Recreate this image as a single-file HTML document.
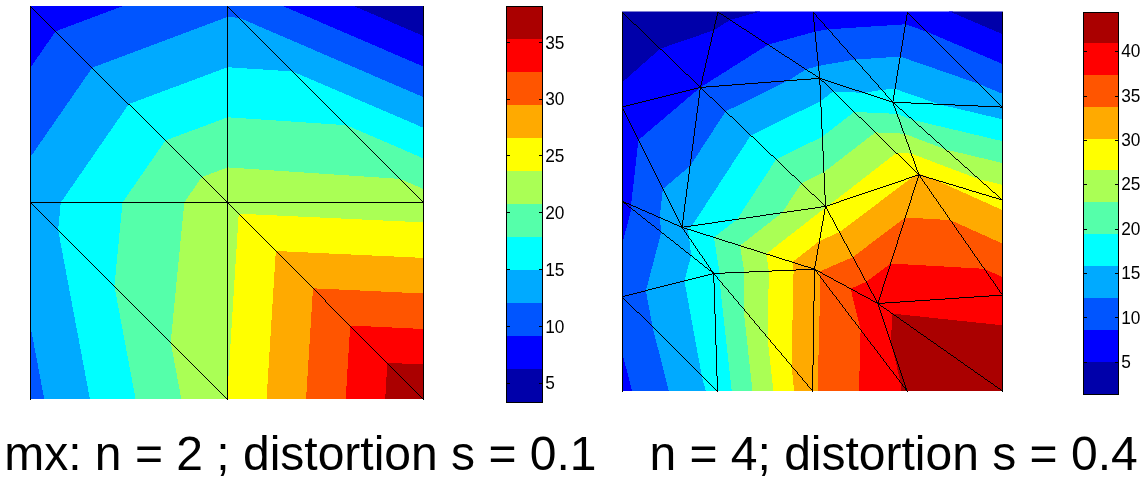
<!DOCTYPE html>
<html lang="en"><head><meta charset="utf-8"><title>mx: distortion comparison</title>
<style>
html,body{margin:0;padding:0;background:#fff;}
body{width:1147px;height:488px;overflow:hidden;position:relative;font-family:"Liberation Sans",Arial,Helvetica,sans-serif;}
svg{position:absolute;left:0;top:0;display:block;}
.tk{font-family:"Liberation Sans",Arial,Helvetica,sans-serif;fill:#000;}
.cap{position:absolute;top:426px;height:56px;line-height:56px;font-size:48px;color:#000;white-space:pre;margin:0;}
#c1{left:4.2px;}
#c2{left:649.4px;}
</style></head>
<body>
<svg width="1147" height="488" viewBox="0 0 1147 488">
<clipPath id="cl"><rect x="30" y="6" width="394" height="393"/></clipPath>
<g clip-path="url(#cl)" shape-rendering="crispEdges">
<g stroke-width="3" stroke-linejoin="round">
<path d="M353.9,6.0 L423.5,6.0 L423.5,36.0Z" fill="#0000AA" stroke="#0000AA"/>
<path d="M30.5,6.0 L123.0,6.0 L55.7,31.2ZM30.5,6.0 L55.7,31.2 L30.5,67.6ZM282.9,6.0 L353.9,6.0 L423.5,36.0 L423.5,66.6Z" fill="#0000FF" stroke="#0000FF"/>
<path d="M123.0,6.0 L227.5,6.0 L227.5,17.0 L92.3,67.6 L55.7,31.2ZM55.7,31.2 L92.3,67.6 L30.5,156.9 L30.5,67.6ZM227.5,6.0 L282.9,6.0 L423.5,66.6 L423.5,97.2 L239.3,17.8ZM227.5,6.0 L239.3,17.8 L227.5,17.0ZM44.2,399.0 L30.5,399.0 L30.5,326.2Z" fill="#0055FF" stroke="#0055FF"/>
<path d="M227.5,17.0 L227.5,67.2 L128.8,104.1 L92.3,67.6ZM92.3,67.6 L128.8,104.1 L60.8,202.5 L30.5,202.5 L30.5,156.9ZM423.5,97.2 L423.5,127.8 L292.8,71.5 L239.3,17.8ZM239.3,17.8 L292.8,71.5 L227.5,67.2 L227.5,17.0ZM30.5,202.5 L60.8,202.5 L58.1,230.0ZM30.5,202.5 L58.1,230.0 L89.9,399.0 L44.2,399.0 L30.5,326.2Z" fill="#00AAFF" stroke="#00AAFF"/>
<path d="M227.5,67.2 L227.5,117.3 L165.4,140.5 L128.8,104.1ZM128.8,104.1 L165.4,140.5 L122.5,202.5 L60.8,202.5ZM423.5,127.8 L423.5,158.4 L346.4,125.2 L292.8,71.5ZM292.8,71.5 L346.4,125.2 L227.5,117.3 L227.5,67.2ZM60.8,202.5 L122.5,202.5 L114.4,286.2 L58.1,230.0ZM58.1,230.0 L114.4,286.2 L135.6,399.0 L89.9,399.0Z" fill="#00FFFF" stroke="#00FFFF"/>
<path d="M227.5,117.3 L227.5,167.4 L201.9,177.0 L165.4,140.5ZM165.4,140.5 L201.9,177.0 L184.3,202.5 L122.5,202.5ZM423.5,158.4 L423.5,189.0 L399.9,178.9 L346.4,125.2ZM346.4,125.2 L399.9,178.9 L227.5,167.4 L227.5,117.3ZM122.5,202.5 L184.3,202.5 L170.7,342.3 L114.4,286.2ZM114.4,286.2 L170.7,342.3 L181.3,399.0 L135.6,399.0Z" fill="#55FFAA" stroke="#55FFAA"/>
<path d="M227.5,167.4 L227.5,202.5 L201.9,177.0ZM201.9,177.0 L227.5,202.5 L184.3,202.5ZM423.5,189.0 L423.5,202.5 L399.9,178.9ZM399.9,178.9 L423.5,202.5 L227.5,202.5 L227.5,167.4ZM184.3,202.5 L227.5,202.5 L227.5,392.7 L226.9,398.4 L170.7,342.3ZM170.7,342.3 L226.9,398.4 L227.0,399.0 L181.3,399.0ZM227.5,202.5 L423.5,202.5 L423.5,222.4 L238.7,213.7ZM227.5,202.5 L238.7,213.7 L227.5,392.7Z" fill="#AAFF55" stroke="#AAFF55"/>
<path d="M227.5,392.7 L227.5,399.0 L226.9,398.4ZM226.9,398.4 L227.5,399.0 L227.0,399.0ZM423.5,222.4 L423.5,257.9 L275.8,251.0 L238.7,213.7ZM238.7,213.7 L275.8,251.0 L266.6,399.0 L227.5,399.0 L227.5,392.7Z" fill="#FFFF00" stroke="#FFFF00"/>
<path d="M423.5,257.9 L423.5,293.5 L313.0,288.3 L275.8,251.0ZM275.8,251.0 L313.0,288.3 L306.1,399.0 L266.6,399.0Z" fill="#FFAA00" stroke="#FFAA00"/>
<path d="M423.5,293.5 L423.5,329.0 L350.2,325.5 L313.0,288.3ZM313.0,288.3 L350.2,325.5 L345.7,399.0 L306.1,399.0Z" fill="#FF5500" stroke="#FF5500"/>
<path d="M423.5,329.0 L423.5,364.5 L387.4,362.8 L350.2,325.5ZM350.2,325.5 L387.4,362.8 L385.2,399.0 L345.7,399.0Z" fill="#FF0000" stroke="#FF0000"/>
<path d="M423.5,364.5 L423.5,399.0 L387.4,362.8ZM387.4,362.8 L423.5,399.0 L385.2,399.0Z" fill="#AA0000" stroke="#AA0000"/>
</g>
<g stroke="none">
<path d="M353.9,6.0 L423.5,6.0 L423.5,36.0Z" fill="#0000AA"/>
<path d="M30.5,6.0 L123.0,6.0 L55.7,31.2ZM30.5,6.0 L55.7,31.2 L30.5,67.6ZM282.9,6.0 L353.9,6.0 L423.5,36.0 L423.5,66.6Z" fill="#0000FF"/>
<path d="M123.0,6.0 L227.5,6.0 L227.5,17.0 L92.3,67.6 L55.7,31.2ZM55.7,31.2 L92.3,67.6 L30.5,156.9 L30.5,67.6ZM227.5,6.0 L282.9,6.0 L423.5,66.6 L423.5,97.2 L239.3,17.8ZM227.5,6.0 L239.3,17.8 L227.5,17.0ZM44.2,399.0 L30.5,399.0 L30.5,326.2Z" fill="#0055FF"/>
<path d="M227.5,17.0 L227.5,67.2 L128.8,104.1 L92.3,67.6ZM92.3,67.6 L128.8,104.1 L60.8,202.5 L30.5,202.5 L30.5,156.9ZM423.5,97.2 L423.5,127.8 L292.8,71.5 L239.3,17.8ZM239.3,17.8 L292.8,71.5 L227.5,67.2 L227.5,17.0ZM30.5,202.5 L60.8,202.5 L58.1,230.0ZM30.5,202.5 L58.1,230.0 L89.9,399.0 L44.2,399.0 L30.5,326.2Z" fill="#00AAFF"/>
<path d="M227.5,67.2 L227.5,117.3 L165.4,140.5 L128.8,104.1ZM128.8,104.1 L165.4,140.5 L122.5,202.5 L60.8,202.5ZM423.5,127.8 L423.5,158.4 L346.4,125.2 L292.8,71.5ZM292.8,71.5 L346.4,125.2 L227.5,117.3 L227.5,67.2ZM60.8,202.5 L122.5,202.5 L114.4,286.2 L58.1,230.0ZM58.1,230.0 L114.4,286.2 L135.6,399.0 L89.9,399.0Z" fill="#00FFFF"/>
<path d="M227.5,117.3 L227.5,167.4 L201.9,177.0 L165.4,140.5ZM165.4,140.5 L201.9,177.0 L184.3,202.5 L122.5,202.5ZM423.5,158.4 L423.5,189.0 L399.9,178.9 L346.4,125.2ZM346.4,125.2 L399.9,178.9 L227.5,167.4 L227.5,117.3ZM122.5,202.5 L184.3,202.5 L170.7,342.3 L114.4,286.2ZM114.4,286.2 L170.7,342.3 L181.3,399.0 L135.6,399.0Z" fill="#55FFAA"/>
<path d="M227.5,167.4 L227.5,202.5 L201.9,177.0ZM201.9,177.0 L227.5,202.5 L184.3,202.5ZM423.5,189.0 L423.5,202.5 L399.9,178.9ZM399.9,178.9 L423.5,202.5 L227.5,202.5 L227.5,167.4ZM184.3,202.5 L227.5,202.5 L227.5,392.7 L226.9,398.4 L170.7,342.3ZM170.7,342.3 L226.9,398.4 L227.0,399.0 L181.3,399.0ZM227.5,202.5 L423.5,202.5 L423.5,222.4 L238.7,213.7ZM227.5,202.5 L238.7,213.7 L227.5,392.7Z" fill="#AAFF55"/>
<path d="M227.5,392.7 L227.5,399.0 L226.9,398.4ZM226.9,398.4 L227.5,399.0 L227.0,399.0ZM423.5,222.4 L423.5,257.9 L275.8,251.0 L238.7,213.7ZM238.7,213.7 L275.8,251.0 L266.6,399.0 L227.5,399.0 L227.5,392.7Z" fill="#FFFF00"/>
<path d="M423.5,257.9 L423.5,293.5 L313.0,288.3 L275.8,251.0ZM275.8,251.0 L313.0,288.3 L306.1,399.0 L266.6,399.0Z" fill="#FFAA00"/>
<path d="M423.5,293.5 L423.5,329.0 L350.2,325.5 L313.0,288.3ZM313.0,288.3 L350.2,325.5 L345.7,399.0 L306.1,399.0Z" fill="#FF5500"/>
<path d="M423.5,329.0 L423.5,364.5 L387.4,362.8 L350.2,325.5ZM350.2,325.5 L387.4,362.8 L385.2,399.0 L345.7,399.0Z" fill="#FF0000"/>
<path d="M423.5,364.5 L423.5,399.0 L387.4,362.8ZM387.4,362.8 L423.5,399.0 L385.2,399.0Z" fill="#AA0000"/>
</g>
</g>
<path d="M30,6h1v1h-1zM30,8h1v194h-1zM30,204h1v196h-1zM30,7h2v1h-2zM30,203h2v1h-2zM30,202h394v1h-394zM32,8h1v1h-1zM32,204h1v1h-1zM33,9h1v1h-1zM33,205h1v1h-1zM34,10h1v1h-1zM34,206h1v1h-1zM35,11h1v1h-1zM35,207h1v1h-1zM36,12h1v1h-1zM36,208h1v1h-1zM37,13h1v1h-1zM37,209h1v1h-1zM38,14h1v1h-1zM38,210h1v1h-1zM39,15h1v1h-1zM39,211h1v1h-1zM40,16h1v1h-1zM40,212h1v1h-1zM41,17h1v1h-1zM41,213h1v1h-1zM42,18h1v1h-1zM42,214h1v1h-1zM43,19h1v1h-1zM43,215h1v1h-1zM44,20h1v1h-1zM44,216h1v1h-1zM45,21h1v1h-1zM45,217h1v1h-1zM46,22h1v1h-1zM46,218h1v1h-1zM47,23h1v1h-1zM47,219h1v1h-1zM48,24h1v1h-1zM48,220h1v1h-1zM49,25h1v1h-1zM49,221h1v1h-1zM50,26h1v1h-1zM50,222h1v1h-1zM51,27h1v1h-1zM51,223h1v1h-1zM52,28h1v1h-1zM52,224h1v1h-1zM53,29h1v1h-1zM53,225h1v1h-1zM54,30h1v1h-1zM54,226h1v1h-1zM55,31h1v1h-1zM55,227h1v1h-1zM56,32h1v1h-1zM56,228h1v1h-1zM57,33h1v1h-1zM57,229h1v1h-1zM58,34h1v1h-1zM58,230h1v1h-1zM59,35h1v1h-1zM59,231h1v1h-1zM60,36h1v1h-1zM60,232h1v1h-1zM61,37h1v1h-1zM61,233h1v1h-1zM62,38h1v1h-1zM62,234h1v1h-1zM63,39h1v1h-1zM63,235h1v1h-1zM64,40h1v1h-1zM64,236h1v1h-1zM65,41h1v1h-1zM65,237h1v1h-1zM66,42h1v1h-1zM66,238h1v1h-1zM67,43h1v1h-1zM67,239h1v1h-1zM68,44h1v1h-1zM68,240h1v1h-1zM69,45h1v1h-1zM69,241h1v1h-1zM70,46h1v1h-1zM70,242h1v1h-1zM71,47h1v1h-1zM71,243h1v1h-1zM72,48h1v1h-1zM72,244h1v1h-1zM73,49h1v1h-1zM73,245h1v1h-1zM74,50h1v1h-1zM74,246h1v1h-1zM75,51h1v1h-1zM75,247h1v1h-1zM76,52h1v1h-1zM76,248h1v1h-1zM77,53h1v1h-1zM77,249h1v1h-1zM78,54h1v1h-1zM78,250h1v1h-1zM79,55h1v1h-1zM79,251h1v1h-1zM80,56h1v1h-1zM80,252h1v1h-1zM81,57h1v1h-1zM81,253h1v1h-1zM82,58h1v1h-1zM82,254h1v1h-1zM83,59h1v1h-1zM83,255h1v1h-1zM84,60h1v1h-1zM84,256h1v1h-1zM85,61h1v1h-1zM85,257h1v1h-1zM86,62h1v1h-1zM86,258h1v1h-1zM87,63h1v1h-1zM87,259h1v1h-1zM88,64h1v1h-1zM88,260h1v1h-1zM89,65h1v1h-1zM89,261h1v1h-1zM90,66h1v1h-1zM90,262h1v1h-1zM91,67h1v1h-1zM91,263h1v1h-1zM92,68h1v1h-1zM92,264h1v1h-1zM93,69h1v1h-1zM93,265h1v1h-1zM94,70h1v1h-1zM94,266h1v1h-1zM95,71h1v1h-1zM95,267h1v1h-1zM96,72h1v1h-1zM96,268h1v1h-1zM97,73h1v1h-1zM97,269h1v1h-1zM98,74h1v1h-1zM98,270h1v1h-1zM99,75h1v1h-1zM99,271h1v1h-1zM100,76h1v1h-1zM100,272h1v1h-1zM101,77h1v1h-1zM101,273h1v1h-1zM102,78h1v1h-1zM102,274h1v1h-1zM103,79h1v1h-1zM103,275h1v1h-1zM104,80h1v1h-1zM104,276h1v1h-1zM105,81h1v1h-1zM105,277h1v1h-1zM106,82h1v1h-1zM106,278h1v1h-1zM107,83h1v1h-1zM107,279h1v1h-1zM108,84h1v1h-1zM108,280h1v1h-1zM109,85h1v1h-1zM109,281h1v1h-1zM110,86h1v1h-1zM110,282h1v1h-1zM111,87h1v1h-1zM111,283h1v1h-1zM112,88h1v1h-1zM112,284h1v1h-1zM113,89h1v1h-1zM113,285h1v1h-1zM114,90h1v1h-1zM114,286h1v1h-1zM115,91h1v1h-1zM115,287h1v1h-1zM116,92h1v1h-1zM116,288h1v1h-1zM117,93h1v1h-1zM117,289h1v1h-1zM118,94h1v1h-1zM118,290h1v1h-1zM119,95h1v1h-1zM119,291h1v1h-1zM120,96h1v1h-1zM120,292h1v1h-1zM121,97h1v1h-1zM121,293h1v1h-1zM122,98h1v1h-1zM122,294h1v1h-1zM123,99h1v1h-1zM123,295h1v1h-1zM124,100h1v1h-1zM124,296h1v1h-1zM125,101h1v1h-1zM125,297h1v1h-1zM126,102h1v1h-1zM126,298h1v1h-1zM127,103h1v1h-1zM127,299h1v1h-1zM128,300h1v1h-1zM128,104h2v1h-2zM129,301h1v1h-1zM130,105h1v1h-1zM130,302h1v1h-1zM131,106h1v1h-1zM131,303h1v1h-1zM132,107h1v1h-1zM132,304h1v1h-1zM133,108h1v1h-1zM133,305h1v1h-1zM134,109h1v1h-1zM134,306h1v1h-1zM135,110h1v1h-1zM135,307h1v1h-1zM136,111h1v1h-1zM136,308h1v1h-1zM137,112h1v1h-1zM137,309h1v1h-1zM138,113h1v1h-1zM138,310h1v1h-1zM139,114h1v1h-1zM139,311h1v1h-1zM140,115h1v1h-1zM140,312h1v1h-1zM141,116h1v1h-1zM141,313h1v1h-1zM142,117h1v1h-1zM142,314h1v1h-1zM143,118h1v1h-1zM143,315h1v1h-1zM144,119h1v1h-1zM144,316h1v1h-1zM145,120h1v1h-1zM145,317h1v1h-1zM146,121h1v1h-1zM146,318h1v1h-1zM147,122h1v1h-1zM147,319h1v1h-1zM148,123h1v1h-1zM148,320h1v1h-1zM149,124h1v1h-1zM149,321h1v1h-1zM150,125h1v1h-1zM150,322h1v1h-1zM151,126h1v1h-1zM151,323h1v1h-1zM152,127h1v1h-1zM152,324h1v1h-1zM153,128h1v1h-1zM153,325h1v1h-1zM154,129h1v1h-1zM154,326h1v1h-1zM155,130h1v1h-1zM155,327h1v1h-1zM156,131h1v1h-1zM156,328h1v1h-1zM157,132h1v1h-1zM157,329h1v1h-1zM158,133h1v1h-1zM158,330h1v1h-1zM159,134h1v1h-1zM159,331h1v1h-1zM160,135h1v1h-1zM160,332h1v1h-1zM161,136h1v1h-1zM161,333h1v1h-1zM162,137h1v1h-1zM162,334h1v1h-1zM163,138h1v1h-1zM163,335h1v1h-1zM164,139h1v1h-1zM164,336h1v1h-1zM165,140h1v1h-1zM165,337h1v1h-1zM166,141h1v1h-1zM166,338h1v1h-1zM167,142h1v1h-1zM167,339h1v1h-1zM168,143h1v1h-1zM168,340h1v1h-1zM169,144h1v1h-1zM169,341h1v1h-1zM170,145h1v1h-1zM170,342h1v1h-1zM171,146h1v1h-1zM171,343h1v1h-1zM172,147h1v1h-1zM172,344h1v1h-1zM173,148h1v1h-1zM173,345h1v1h-1zM174,149h1v1h-1zM174,346h1v1h-1zM175,150h1v1h-1zM175,347h1v1h-1zM176,151h1v1h-1zM176,348h1v1h-1zM177,152h1v1h-1zM177,349h1v1h-1zM178,153h1v1h-1zM178,350h1v1h-1zM179,154h1v1h-1zM179,351h1v1h-1zM180,155h1v1h-1zM180,352h1v1h-1zM181,156h1v1h-1zM181,353h1v1h-1zM182,157h1v1h-1zM182,354h1v1h-1zM183,158h1v1h-1zM183,355h1v1h-1zM184,159h1v1h-1zM184,356h1v1h-1zM185,160h1v1h-1zM185,357h1v1h-1zM186,161h1v1h-1zM186,358h1v1h-1zM187,162h1v1h-1zM187,359h1v1h-1zM188,163h1v1h-1zM188,360h1v1h-1zM189,164h1v1h-1zM189,361h1v1h-1zM190,165h1v1h-1zM190,362h1v1h-1zM191,166h1v1h-1zM191,363h1v1h-1zM192,167h1v1h-1zM192,364h1v1h-1zM193,168h1v1h-1zM193,365h1v1h-1zM194,169h1v1h-1zM194,366h1v1h-1zM195,170h1v1h-1zM195,367h1v1h-1zM196,171h1v1h-1zM196,368h1v1h-1zM197,172h1v1h-1zM197,369h1v1h-1zM198,173h1v1h-1zM198,370h1v1h-1zM199,174h1v1h-1zM199,371h1v1h-1zM200,175h1v1h-1zM200,372h1v1h-1zM201,176h1v1h-1zM201,373h1v1h-1zM202,177h1v1h-1zM202,374h1v1h-1zM203,178h1v1h-1zM203,375h1v1h-1zM204,179h1v1h-1zM204,376h1v1h-1zM205,180h1v1h-1zM205,377h1v1h-1zM206,181h1v1h-1zM206,378h1v1h-1zM207,182h1v1h-1zM207,379h1v1h-1zM208,183h1v1h-1zM208,380h1v1h-1zM209,184h1v1h-1zM209,381h1v1h-1zM210,185h1v1h-1zM210,382h1v1h-1zM211,186h1v1h-1zM211,383h1v1h-1zM212,187h1v1h-1zM212,384h1v1h-1zM213,188h1v1h-1zM213,385h1v1h-1zM214,189h1v1h-1zM214,386h1v1h-1zM215,190h1v1h-1zM215,387h1v1h-1zM216,191h1v1h-1zM216,388h1v1h-1zM217,192h1v1h-1zM217,389h1v1h-1zM218,193h1v1h-1zM218,390h1v1h-1zM219,194h1v1h-1zM219,391h1v1h-1zM220,195h1v1h-1zM220,392h1v1h-1zM221,196h1v1h-1zM221,393h1v1h-1zM222,197h1v1h-1zM222,394h1v1h-1zM223,198h1v1h-1zM223,395h1v1h-1zM224,199h1v1h-1zM224,396h1v1h-1zM225,200h1v1h-1zM225,397h1v1h-1zM226,201h2v1h-2zM226,398h2v1h-2zM227,6h1v1h-1zM227,8h1v193h-1zM227,204h1v194h-1zM227,399h1v1h-1zM227,7h2v1h-2zM227,203h2v1h-2zM229,8h1v1h-1zM229,204h1v1h-1zM230,9h1v1h-1zM230,205h1v1h-1zM231,10h1v1h-1zM231,206h1v1h-1zM232,11h1v1h-1zM232,207h1v1h-1zM233,12h1v1h-1zM233,208h1v1h-1zM234,13h1v1h-1zM234,209h1v1h-1zM235,14h1v1h-1zM235,210h1v1h-1zM236,15h1v1h-1zM236,211h1v1h-1zM237,16h1v1h-1zM237,212h1v1h-1zM238,17h1v1h-1zM238,213h1v1h-1zM239,18h1v1h-1zM239,214h1v1h-1zM240,19h1v1h-1zM240,215h1v1h-1zM241,20h1v1h-1zM241,216h1v1h-1zM242,21h1v1h-1zM242,217h1v1h-1zM243,22h1v1h-1zM243,218h1v1h-1zM244,23h1v1h-1zM244,219h1v1h-1zM245,24h1v1h-1zM245,220h1v1h-1zM246,25h1v1h-1zM246,221h1v1h-1zM247,26h1v1h-1zM247,222h1v1h-1zM248,27h1v1h-1zM248,223h1v1h-1zM249,28h1v1h-1zM249,224h1v1h-1zM250,29h1v1h-1zM250,225h1v1h-1zM251,30h1v1h-1zM251,226h1v1h-1zM252,31h1v1h-1zM252,227h1v1h-1zM253,32h1v1h-1zM253,228h1v1h-1zM254,33h1v1h-1zM254,229h1v1h-1zM255,34h1v1h-1zM255,230h1v1h-1zM256,35h1v1h-1zM256,231h1v1h-1zM257,36h1v1h-1zM257,232h1v1h-1zM258,37h1v1h-1zM258,233h1v1h-1zM259,38h1v1h-1zM259,234h1v1h-1zM260,39h1v1h-1zM260,235h1v1h-1zM261,40h1v1h-1zM261,236h1v1h-1zM262,41h1v1h-1zM262,237h1v1h-1zM263,42h1v1h-1zM263,238h1v1h-1zM264,43h1v1h-1zM264,239h1v1h-1zM265,44h1v1h-1zM265,240h1v1h-1zM266,45h1v1h-1zM266,241h1v1h-1zM267,46h1v1h-1zM267,242h1v1h-1zM268,47h1v1h-1zM268,243h1v1h-1zM269,48h1v1h-1zM269,244h1v1h-1zM270,49h1v1h-1zM270,245h1v1h-1zM271,50h1v1h-1zM271,246h1v1h-1zM272,51h1v1h-1zM272,247h1v1h-1zM273,52h1v1h-1zM273,248h1v1h-1zM274,53h1v1h-1zM274,249h1v1h-1zM275,54h1v1h-1zM275,250h1v1h-1zM276,55h1v1h-1zM276,251h1v1h-1zM277,56h1v1h-1zM277,252h1v1h-1zM278,57h1v1h-1zM278,253h1v1h-1zM279,58h1v1h-1zM279,254h1v1h-1zM280,59h1v1h-1zM280,255h1v1h-1zM281,60h1v1h-1zM281,256h1v1h-1zM282,61h1v1h-1zM282,257h1v1h-1zM283,62h1v1h-1zM283,258h1v1h-1zM284,63h1v1h-1zM284,259h1v1h-1zM285,64h1v1h-1zM285,260h1v1h-1zM286,65h1v1h-1zM286,261h1v1h-1zM287,66h1v1h-1zM287,262h1v1h-1zM288,67h1v1h-1zM288,263h1v1h-1zM289,68h1v1h-1zM289,264h1v1h-1zM290,69h1v1h-1zM290,265h1v1h-1zM291,70h1v1h-1zM291,266h1v1h-1zM292,71h1v1h-1zM292,267h1v1h-1zM293,72h1v1h-1zM293,268h1v1h-1zM294,73h1v1h-1zM294,269h1v1h-1zM295,74h1v1h-1zM295,270h1v1h-1zM296,75h1v1h-1zM296,271h1v1h-1zM297,76h1v1h-1zM297,272h1v1h-1zM298,77h1v1h-1zM298,273h1v1h-1zM299,78h1v1h-1zM299,274h1v1h-1zM300,79h1v1h-1zM300,275h1v1h-1zM301,80h1v1h-1zM301,276h1v1h-1zM302,81h1v1h-1zM302,277h1v1h-1zM303,82h1v1h-1zM303,278h1v1h-1zM304,83h1v1h-1zM304,279h1v1h-1zM305,84h1v1h-1zM305,280h1v1h-1zM306,85h1v1h-1zM306,281h1v1h-1zM307,86h1v1h-1zM307,282h1v1h-1zM308,87h1v1h-1zM308,283h1v1h-1zM309,88h1v1h-1zM309,284h1v1h-1zM310,89h1v1h-1zM310,285h1v1h-1zM311,90h1v1h-1zM311,286h1v1h-1zM312,91h1v1h-1zM312,287h1v1h-1zM313,92h1v1h-1zM313,288h1v1h-1zM314,93h1v1h-1zM314,289h1v1h-1zM315,94h1v1h-1zM315,290h1v1h-1zM316,95h1v1h-1zM316,291h1v1h-1zM317,96h1v1h-1zM317,292h1v1h-1zM318,97h1v1h-1zM318,293h1v1h-1zM319,98h1v1h-1zM319,294h1v1h-1zM320,99h1v1h-1zM320,295h1v1h-1zM321,100h1v1h-1zM321,296h1v1h-1zM322,101h1v1h-1zM322,297h1v1h-1zM323,102h1v1h-1zM323,298h1v1h-1zM324,103h1v1h-1zM324,299h1v1h-1zM325,104h1v1h-1zM325,300h1v2h-1zM326,105h1v1h-1zM326,302h1v1h-1zM327,106h1v1h-1zM327,303h1v1h-1zM328,107h1v1h-1zM328,304h1v1h-1zM329,108h1v1h-1zM329,305h1v1h-1zM330,109h1v1h-1zM330,306h1v1h-1zM331,110h1v1h-1zM331,307h1v1h-1zM332,111h1v1h-1zM332,308h1v1h-1zM333,112h1v1h-1zM333,309h1v1h-1zM334,113h1v1h-1zM334,310h1v1h-1zM335,114h1v1h-1zM335,311h1v1h-1zM336,115h1v1h-1zM336,312h1v1h-1zM337,116h1v1h-1zM337,313h1v1h-1zM338,117h1v1h-1zM338,314h1v1h-1zM339,118h1v1h-1zM339,315h1v1h-1zM340,119h1v1h-1zM340,316h1v1h-1zM341,120h1v1h-1zM341,317h1v1h-1zM342,121h1v1h-1zM342,318h1v1h-1zM343,122h1v1h-1zM343,319h1v1h-1zM344,123h1v1h-1zM344,320h1v1h-1zM345,124h1v1h-1zM345,321h1v1h-1zM346,125h1v1h-1zM346,322h1v1h-1zM347,126h1v1h-1zM347,323h1v1h-1zM348,127h1v1h-1zM348,324h1v1h-1zM349,128h1v1h-1zM349,325h1v1h-1zM350,129h1v1h-1zM350,326h1v1h-1zM351,130h1v1h-1zM351,327h1v1h-1zM352,131h1v1h-1zM352,328h1v1h-1zM353,132h1v1h-1zM353,329h1v1h-1zM354,133h1v1h-1zM354,330h1v1h-1zM355,134h1v1h-1zM355,331h1v1h-1zM356,135h1v1h-1zM356,332h1v1h-1zM357,136h1v1h-1zM357,333h1v1h-1zM358,137h1v1h-1zM358,334h1v1h-1zM359,138h1v1h-1zM359,335h1v1h-1zM360,139h1v1h-1zM360,336h1v1h-1zM361,140h1v1h-1zM361,337h1v1h-1zM362,141h1v1h-1zM362,338h1v1h-1zM363,142h1v1h-1zM363,339h1v1h-1zM364,143h1v1h-1zM364,340h1v1h-1zM365,144h1v1h-1zM365,341h1v1h-1zM366,145h1v1h-1zM366,342h1v1h-1zM367,146h1v1h-1zM367,343h1v1h-1zM368,147h1v1h-1zM368,344h1v1h-1zM369,148h1v1h-1zM369,345h1v1h-1zM370,149h1v1h-1zM370,346h1v1h-1zM371,150h1v1h-1zM371,347h1v1h-1zM372,151h1v1h-1zM372,348h1v1h-1zM373,152h1v1h-1zM373,349h1v1h-1zM374,153h1v1h-1zM374,350h1v1h-1zM375,154h1v1h-1zM375,351h1v1h-1zM376,155h1v1h-1zM376,352h1v1h-1zM377,156h1v1h-1zM377,353h1v1h-1zM378,157h1v1h-1zM378,354h1v1h-1zM379,158h1v1h-1zM379,355h1v1h-1zM380,159h1v1h-1zM380,356h1v1h-1zM381,160h1v1h-1zM381,357h1v1h-1zM382,161h1v1h-1zM382,358h1v1h-1zM383,162h1v1h-1zM383,359h1v1h-1zM384,163h1v1h-1zM384,360h1v1h-1zM385,164h1v1h-1zM385,361h1v1h-1zM386,165h1v1h-1zM386,362h1v1h-1zM387,166h1v1h-1zM387,363h1v1h-1zM388,167h1v1h-1zM388,364h1v1h-1zM389,168h1v1h-1zM389,365h1v1h-1zM390,169h1v1h-1zM390,366h1v1h-1zM391,170h1v1h-1zM391,367h1v1h-1zM392,171h1v1h-1zM392,368h1v1h-1zM393,172h1v1h-1zM393,369h1v1h-1zM394,173h1v1h-1zM394,370h1v1h-1zM395,174h1v1h-1zM395,371h1v1h-1zM396,175h1v1h-1zM396,372h1v1h-1zM397,176h1v1h-1zM397,373h1v1h-1zM398,177h1v1h-1zM398,374h1v1h-1zM399,178h1v1h-1zM399,375h1v1h-1zM400,179h1v1h-1zM400,376h1v1h-1zM401,180h1v1h-1zM401,377h1v1h-1zM402,181h1v1h-1zM402,378h1v1h-1zM403,182h1v1h-1zM403,379h1v1h-1zM404,183h1v1h-1zM404,380h1v1h-1zM405,184h1v1h-1zM405,381h1v1h-1zM406,185h1v1h-1zM406,382h1v1h-1zM407,186h1v1h-1zM407,383h1v1h-1zM408,187h1v1h-1zM408,384h1v1h-1zM409,188h1v1h-1zM409,385h1v1h-1zM410,189h1v1h-1zM410,386h1v1h-1zM411,190h1v1h-1zM411,387h1v1h-1zM412,191h1v1h-1zM412,388h1v1h-1zM413,192h1v1h-1zM413,389h1v1h-1zM414,193h1v1h-1zM414,390h1v1h-1zM415,194h1v1h-1zM415,391h1v1h-1zM416,195h1v1h-1zM416,392h1v1h-1zM417,196h1v1h-1zM417,393h1v1h-1zM418,197h1v1h-1zM418,394h1v1h-1zM419,198h1v1h-1zM419,395h1v1h-1zM420,199h1v1h-1zM420,396h1v1h-1zM421,200h1v1h-1zM421,397h1v1h-1zM422,201h2v1h-2zM422,398h2v1h-2zM423,6h1v195h-1zM423,203h1v195h-1zM423,399h1v1h-1z" fill="#000" shape-rendering="crispEdges"/>
<clipPath id="cr"><rect x="622" y="11.5" width="381" height="379.5"/></clipPath>
<g clip-path="url(#cr)" shape-rendering="crispEdges">
<g stroke-width="3" stroke-linejoin="round">
<path d="M622.0,12.0 L717.9,12.0 L713.7,30.3 L660.2,48.7ZM622.0,12.0 L660.2,48.7 L622.0,82.6ZM717.9,12.0 L758.5,12.0 L730.1,19.9ZM717.9,12.0 L730.1,19.9 L713.7,30.3ZM950.8,12.0 L1002.5,12.0 L1002.5,34.1Z" fill="#0000AA" stroke="#0000AA"/>
<path d="M713.7,30.3 L700.4,87.4 L660.2,48.7ZM660.2,48.7 L700.4,87.4 L622.0,107.1 L622.0,82.6ZM758.5,12.0 L813.0,12.0 L815.0,31.6 L768.0,44.7 L730.1,19.9ZM730.1,19.9 L768.0,44.7 L700.4,87.4 L700.4,87.4 L713.7,30.3ZM813.0,12.0 L907.5,12.0 L905.5,24.3 L828.3,29.3ZM813.0,12.0 L828.3,29.3 L815.0,31.6ZM907.5,12.0 L950.8,12.0 L1002.5,34.1 L1002.5,64.0 L927.3,31.9ZM907.5,12.0 L927.3,31.9 L905.5,24.3ZM622.0,107.1 L700.4,87.4 L700.4,87.4 L638.4,140.0ZM622.0,107.1 L638.4,140.0 L631.1,205.1 L622.0,201.1ZM622.0,201.1 L631.1,205.1 L631.5,208.6ZM622.0,201.1 L631.5,208.6 L622.0,244.8ZM632.0,391.0 L622.0,391.0 L622.0,351.8Z" fill="#0000FF" stroke="#0000FF"/>
<path d="M700.4,87.4 L700.4,87.4 L700.4,87.4ZM700.4,87.4 L700.4,87.4 L700.4,87.4ZM815.0,31.6 L818.5,65.9 L806.0,69.4 L768.0,44.7ZM768.0,44.7 L806.0,69.4 L788.1,80.7 L700.4,87.4 L700.4,87.4ZM905.5,24.3 L900.2,56.6 L855.0,59.5 L828.3,29.3ZM828.3,29.3 L855.0,59.5 L818.5,65.9 L815.0,31.6ZM1002.5,64.0 L1002.5,93.9 L979.5,84.1 L927.3,31.9ZM927.3,31.9 L979.5,84.1 L900.2,56.6 L905.5,24.3ZM700.4,87.4 L700.4,87.4 L690.1,166.0 L662.9,189.0 L638.4,140.0ZM638.4,140.0 L662.9,189.0 L659.7,217.6 L631.1,205.1ZM700.4,87.4 L788.1,80.7 L725.6,111.4ZM700.4,87.4 L725.6,111.4 L690.1,166.0ZM631.1,205.1 L659.7,217.6 L661.3,232.1 L631.5,208.6ZM631.5,208.6 L661.3,232.1 L645.9,290.7 L622.0,296.7 L622.0,244.8ZM622.0,296.7 L645.9,290.7 L652.5,326.8ZM622.0,296.7 L652.5,326.8 L668.8,391.0 L632.0,391.0 L622.0,351.8Z" fill="#0055FF" stroke="#0055FF"/>
<path d="M818.5,65.9 L819.7,78.3 L806.0,69.4ZM806.0,69.4 L819.7,78.3 L788.1,80.7ZM900.2,56.6 L895.0,88.9 L881.8,89.8 L855.0,59.5ZM855.0,59.5 L881.8,89.8 L864.3,92.9 L819.7,78.3 L818.5,65.9ZM1002.5,93.9 L1002.5,107.1 L979.5,84.1ZM979.5,84.1 L1002.5,107.1 L939.2,104.3 L895.0,88.9 L900.2,56.6ZM690.1,166.0 L682.0,227.3 L662.9,189.0ZM662.9,189.0 L682.0,227.3 L659.7,217.6ZM788.1,80.7 L819.7,78.3 L820.7,101.1 L750.8,135.4 L725.6,111.4ZM725.6,111.4 L750.8,135.4 L691.9,225.9 L682.0,227.3 L690.1,166.0ZM819.7,78.3 L864.3,92.9 L833.2,91.4ZM819.7,78.3 L833.2,91.4 L820.7,101.1ZM939.2,104.3 L1002.5,107.1 L1002.5,119.3ZM659.7,217.6 L682.0,227.3 L689.1,237.7 L691.1,255.6 L661.3,232.1ZM661.3,232.1 L691.1,255.6 L684.4,280.9 L645.9,290.7ZM682.0,227.3 L691.9,225.9 L687.7,229.1ZM682.0,227.3 L687.7,229.1 L689.1,237.7ZM645.9,290.7 L684.4,280.9 L701.7,375.4 L652.5,326.8ZM652.5,326.8 L701.7,375.4 L705.7,391.0 L668.8,391.0Z" fill="#00AAFF" stroke="#00AAFF"/>
<path d="M895.0,88.9 L892.8,102.2 L881.8,89.8ZM881.8,89.8 L892.8,102.2 L864.3,92.9ZM939.2,104.3 L892.8,102.2 L895.0,88.9ZM820.7,101.1 L822.3,136.7 L776.1,159.4 L750.8,135.4ZM750.8,135.4 L776.1,159.4 L737.1,219.3 L691.9,225.9ZM864.3,92.9 L892.8,102.2 L897.0,113.9 L854.2,111.9 L833.2,91.4ZM833.2,91.4 L854.2,111.9 L822.3,136.7 L820.7,101.1ZM892.8,102.2 L939.2,104.3 L1002.5,119.3 L1002.5,141.2 L912.5,119.8ZM892.8,102.2 L912.5,119.8 L897.0,113.9ZM689.1,237.7 L713.7,273.5 L691.1,255.6ZM691.1,255.6 L713.7,273.5 L684.4,280.9ZM691.9,225.9 L737.1,219.3 L713.9,237.4 L687.7,229.1ZM687.7,229.1 L713.9,237.4 L719.6,273.2 L713.7,273.5 L689.1,237.7ZM684.4,280.9 L713.7,273.5 L717.5,391.0 L701.7,375.4ZM701.7,375.4 L717.5,391.0 L705.7,391.0ZM713.7,273.5 L719.6,273.2 L719.5,280.3ZM713.7,273.5 L719.5,280.3 L731.7,391.0 L717.5,391.0Z" fill="#00FFFF" stroke="#00FFFF"/>
<path d="M822.3,136.7 L824.0,172.2 L801.3,183.4 L776.1,159.4ZM776.1,159.4 L801.3,183.4 L782.2,212.7 L737.1,219.3ZM897.0,113.9 L904.1,133.7 L875.3,132.4 L854.2,111.9ZM854.2,111.9 L875.3,132.4 L824.0,172.2 L822.3,136.7ZM1002.5,141.2 L1002.5,163.0 L945.8,149.5 L912.5,119.8ZM912.5,119.8 L945.8,149.5 L904.1,133.7 L897.0,113.9ZM737.1,219.3 L782.2,212.7 L740.0,245.6 L713.9,237.4ZM713.9,237.4 L740.0,245.6 L744.3,272.2 L719.6,273.2ZM719.6,273.2 L744.3,272.2 L743.5,308.9 L719.5,280.3ZM719.5,280.3 L743.5,308.9 L752.5,391.0 L731.7,391.0Z" fill="#55FFAA" stroke="#55FFAA"/>
<path d="M824.0,172.2 L825.5,206.4 L801.3,183.4ZM801.3,183.4 L825.5,206.4 L782.2,212.7ZM904.1,133.7 L911.3,153.6 L896.4,152.9 L875.3,132.4ZM875.3,132.4 L896.4,152.9 L828.9,205.3 L825.5,206.4 L824.0,172.2ZM1002.5,163.0 L1002.5,184.8 L979.2,179.3 L945.8,149.5ZM945.8,149.5 L979.2,179.3 L911.3,153.6 L904.1,133.7ZM782.2,212.7 L825.5,206.4 L825.3,207.7 L766.2,253.9 L740.0,245.6ZM740.0,245.6 L766.2,253.9 L768.9,271.1 L744.3,272.2ZM825.5,206.4 L828.9,205.3 L826.0,207.4ZM825.5,206.4 L826.0,207.4 L825.3,207.7ZM744.3,272.2 L768.9,271.1 L767.5,337.4 L743.5,308.9ZM743.5,308.9 L767.5,337.4 L773.4,391.0 L752.5,391.0Z" fill="#AAFF55" stroke="#AAFF55"/>
<path d="M911.3,153.6 L918.4,173.4 L917.4,173.4 L896.4,152.9ZM896.4,152.9 L917.4,173.4 L913.0,176.8 L828.9,205.3ZM1002.5,184.8 L1002.5,200.1 L979.2,179.3ZM979.2,179.3 L1002.5,200.1 L934.7,179.6 L918.4,173.4 L911.3,153.6ZM825.3,207.7 L819.4,241.0 L792.3,262.2 L766.2,253.9ZM766.2,253.9 L792.3,262.2 L793.6,270.1 L768.9,271.1ZM828.9,205.3 L913.0,176.8 L839.4,232.2 L826.0,207.4ZM826.0,207.4 L839.4,232.2 L819.4,241.0 L825.3,207.7ZM934.7,179.6 L1002.5,200.1 L1002.5,210.1ZM768.9,271.1 L793.6,270.1 L791.5,365.9 L767.5,337.4ZM767.5,337.4 L791.5,365.9 L794.2,391.0 L773.4,391.0Z" fill="#FFFF00" stroke="#FFFF00"/>
<path d="M918.4,173.4 L918.9,174.8 L917.4,173.4ZM917.4,173.4 L918.9,174.8 L913.0,176.8ZM934.7,179.6 L918.9,174.8 L918.4,173.4ZM819.4,241.0 L814.5,269.2 L792.3,262.2ZM792.3,262.2 L814.5,269.2 L793.6,270.1ZM913.0,176.8 L918.9,174.8 L905.3,217.5 L852.8,257.1 L839.4,232.2ZM839.4,232.2 L852.8,257.1 L819.2,271.7 L814.5,269.2 L819.4,241.0ZM918.9,174.8 L934.7,179.6 L1002.5,210.1 L1002.5,243.6 L950.4,220.1ZM918.9,174.8 L950.4,220.1 L905.3,217.5ZM793.6,270.1 L814.5,269.2 L812.6,391.0 L791.5,365.9ZM791.5,365.9 L812.6,391.0 L794.2,391.0ZM814.5,269.2 L819.2,271.7 L820.5,277.1ZM814.5,269.2 L820.5,277.1 L817.6,391.0 L812.6,391.0Z" fill="#FFAA00" stroke="#FFAA00"/>
<path d="M905.3,217.5 L890.6,263.5 L866.2,281.9 L852.8,257.1ZM852.8,257.1 L866.2,281.9 L850.6,288.7 L819.2,271.7ZM1002.5,243.6 L1002.5,277.0 L984.2,268.8 L950.4,220.1ZM950.4,220.1 L984.2,268.8 L890.6,263.5 L905.3,217.5ZM819.2,271.7 L850.6,288.7 L860.6,329.8 L820.5,277.1ZM820.5,277.1 L860.6,329.8 L859.0,391.0 L817.6,391.0Z" fill="#FF5500" stroke="#FF5500"/>
<path d="M890.6,263.5 L877.9,303.5 L866.2,281.9ZM866.2,281.9 L877.9,303.5 L850.6,288.7ZM1002.5,277.0 L1002.5,295.1 L984.2,268.8ZM984.2,268.8 L1002.5,295.1 L877.9,303.5 L890.6,263.5ZM850.6,288.7 L877.9,303.5 L891.0,342.7 L900.7,382.6 L860.6,329.8ZM860.6,329.8 L900.7,382.6 L900.5,391.0 L859.0,391.0ZM877.9,303.5 L1002.5,295.1 L1002.5,325.3 L892.2,313.6ZM877.9,303.5 L892.2,313.6 L891.0,342.7Z" fill="#FF0000" stroke="#FF0000"/>
<path d="M891.0,342.7 L907.1,391.0 L900.7,382.6ZM900.7,382.6 L907.1,391.0 L900.5,391.0ZM1002.5,325.3 L1002.5,391.0 L892.2,313.6ZM892.2,313.6 L1002.5,391.0 L907.1,391.0 L891.0,342.7Z" fill="#AA0000" stroke="#AA0000"/>
</g>
<g stroke="none">
<path d="M622.0,12.0 L717.9,12.0 L713.7,30.3 L660.2,48.7ZM622.0,12.0 L660.2,48.7 L622.0,82.6ZM717.9,12.0 L758.5,12.0 L730.1,19.9ZM717.9,12.0 L730.1,19.9 L713.7,30.3ZM950.8,12.0 L1002.5,12.0 L1002.5,34.1Z" fill="#0000AA"/>
<path d="M713.7,30.3 L700.4,87.4 L660.2,48.7ZM660.2,48.7 L700.4,87.4 L622.0,107.1 L622.0,82.6ZM758.5,12.0 L813.0,12.0 L815.0,31.6 L768.0,44.7 L730.1,19.9ZM730.1,19.9 L768.0,44.7 L700.4,87.4 L700.4,87.4 L713.7,30.3ZM813.0,12.0 L907.5,12.0 L905.5,24.3 L828.3,29.3ZM813.0,12.0 L828.3,29.3 L815.0,31.6ZM907.5,12.0 L950.8,12.0 L1002.5,34.1 L1002.5,64.0 L927.3,31.9ZM907.5,12.0 L927.3,31.9 L905.5,24.3ZM622.0,107.1 L700.4,87.4 L700.4,87.4 L638.4,140.0ZM622.0,107.1 L638.4,140.0 L631.1,205.1 L622.0,201.1ZM622.0,201.1 L631.1,205.1 L631.5,208.6ZM622.0,201.1 L631.5,208.6 L622.0,244.8ZM632.0,391.0 L622.0,391.0 L622.0,351.8Z" fill="#0000FF"/>
<path d="M700.4,87.4 L700.4,87.4 L700.4,87.4ZM700.4,87.4 L700.4,87.4 L700.4,87.4ZM815.0,31.6 L818.5,65.9 L806.0,69.4 L768.0,44.7ZM768.0,44.7 L806.0,69.4 L788.1,80.7 L700.4,87.4 L700.4,87.4ZM905.5,24.3 L900.2,56.6 L855.0,59.5 L828.3,29.3ZM828.3,29.3 L855.0,59.5 L818.5,65.9 L815.0,31.6ZM1002.5,64.0 L1002.5,93.9 L979.5,84.1 L927.3,31.9ZM927.3,31.9 L979.5,84.1 L900.2,56.6 L905.5,24.3ZM700.4,87.4 L700.4,87.4 L690.1,166.0 L662.9,189.0 L638.4,140.0ZM638.4,140.0 L662.9,189.0 L659.7,217.6 L631.1,205.1ZM700.4,87.4 L788.1,80.7 L725.6,111.4ZM700.4,87.4 L725.6,111.4 L690.1,166.0ZM631.1,205.1 L659.7,217.6 L661.3,232.1 L631.5,208.6ZM631.5,208.6 L661.3,232.1 L645.9,290.7 L622.0,296.7 L622.0,244.8ZM622.0,296.7 L645.9,290.7 L652.5,326.8ZM622.0,296.7 L652.5,326.8 L668.8,391.0 L632.0,391.0 L622.0,351.8Z" fill="#0055FF"/>
<path d="M818.5,65.9 L819.7,78.3 L806.0,69.4ZM806.0,69.4 L819.7,78.3 L788.1,80.7ZM900.2,56.6 L895.0,88.9 L881.8,89.8 L855.0,59.5ZM855.0,59.5 L881.8,89.8 L864.3,92.9 L819.7,78.3 L818.5,65.9ZM1002.5,93.9 L1002.5,107.1 L979.5,84.1ZM979.5,84.1 L1002.5,107.1 L939.2,104.3 L895.0,88.9 L900.2,56.6ZM690.1,166.0 L682.0,227.3 L662.9,189.0ZM662.9,189.0 L682.0,227.3 L659.7,217.6ZM788.1,80.7 L819.7,78.3 L820.7,101.1 L750.8,135.4 L725.6,111.4ZM725.6,111.4 L750.8,135.4 L691.9,225.9 L682.0,227.3 L690.1,166.0ZM819.7,78.3 L864.3,92.9 L833.2,91.4ZM819.7,78.3 L833.2,91.4 L820.7,101.1ZM939.2,104.3 L1002.5,107.1 L1002.5,119.3ZM659.7,217.6 L682.0,227.3 L689.1,237.7 L691.1,255.6 L661.3,232.1ZM661.3,232.1 L691.1,255.6 L684.4,280.9 L645.9,290.7ZM682.0,227.3 L691.9,225.9 L687.7,229.1ZM682.0,227.3 L687.7,229.1 L689.1,237.7ZM645.9,290.7 L684.4,280.9 L701.7,375.4 L652.5,326.8ZM652.5,326.8 L701.7,375.4 L705.7,391.0 L668.8,391.0Z" fill="#00AAFF"/>
<path d="M895.0,88.9 L892.8,102.2 L881.8,89.8ZM881.8,89.8 L892.8,102.2 L864.3,92.9ZM939.2,104.3 L892.8,102.2 L895.0,88.9ZM820.7,101.1 L822.3,136.7 L776.1,159.4 L750.8,135.4ZM750.8,135.4 L776.1,159.4 L737.1,219.3 L691.9,225.9ZM864.3,92.9 L892.8,102.2 L897.0,113.9 L854.2,111.9 L833.2,91.4ZM833.2,91.4 L854.2,111.9 L822.3,136.7 L820.7,101.1ZM892.8,102.2 L939.2,104.3 L1002.5,119.3 L1002.5,141.2 L912.5,119.8ZM892.8,102.2 L912.5,119.8 L897.0,113.9ZM689.1,237.7 L713.7,273.5 L691.1,255.6ZM691.1,255.6 L713.7,273.5 L684.4,280.9ZM691.9,225.9 L737.1,219.3 L713.9,237.4 L687.7,229.1ZM687.7,229.1 L713.9,237.4 L719.6,273.2 L713.7,273.5 L689.1,237.7ZM684.4,280.9 L713.7,273.5 L717.5,391.0 L701.7,375.4ZM701.7,375.4 L717.5,391.0 L705.7,391.0ZM713.7,273.5 L719.6,273.2 L719.5,280.3ZM713.7,273.5 L719.5,280.3 L731.7,391.0 L717.5,391.0Z" fill="#00FFFF"/>
<path d="M822.3,136.7 L824.0,172.2 L801.3,183.4 L776.1,159.4ZM776.1,159.4 L801.3,183.4 L782.2,212.7 L737.1,219.3ZM897.0,113.9 L904.1,133.7 L875.3,132.4 L854.2,111.9ZM854.2,111.9 L875.3,132.4 L824.0,172.2 L822.3,136.7ZM1002.5,141.2 L1002.5,163.0 L945.8,149.5 L912.5,119.8ZM912.5,119.8 L945.8,149.5 L904.1,133.7 L897.0,113.9ZM737.1,219.3 L782.2,212.7 L740.0,245.6 L713.9,237.4ZM713.9,237.4 L740.0,245.6 L744.3,272.2 L719.6,273.2ZM719.6,273.2 L744.3,272.2 L743.5,308.9 L719.5,280.3ZM719.5,280.3 L743.5,308.9 L752.5,391.0 L731.7,391.0Z" fill="#55FFAA"/>
<path d="M824.0,172.2 L825.5,206.4 L801.3,183.4ZM801.3,183.4 L825.5,206.4 L782.2,212.7ZM904.1,133.7 L911.3,153.6 L896.4,152.9 L875.3,132.4ZM875.3,132.4 L896.4,152.9 L828.9,205.3 L825.5,206.4 L824.0,172.2ZM1002.5,163.0 L1002.5,184.8 L979.2,179.3 L945.8,149.5ZM945.8,149.5 L979.2,179.3 L911.3,153.6 L904.1,133.7ZM782.2,212.7 L825.5,206.4 L825.3,207.7 L766.2,253.9 L740.0,245.6ZM740.0,245.6 L766.2,253.9 L768.9,271.1 L744.3,272.2ZM825.5,206.4 L828.9,205.3 L826.0,207.4ZM825.5,206.4 L826.0,207.4 L825.3,207.7ZM744.3,272.2 L768.9,271.1 L767.5,337.4 L743.5,308.9ZM743.5,308.9 L767.5,337.4 L773.4,391.0 L752.5,391.0Z" fill="#AAFF55"/>
<path d="M911.3,153.6 L918.4,173.4 L917.4,173.4 L896.4,152.9ZM896.4,152.9 L917.4,173.4 L913.0,176.8 L828.9,205.3ZM1002.5,184.8 L1002.5,200.1 L979.2,179.3ZM979.2,179.3 L1002.5,200.1 L934.7,179.6 L918.4,173.4 L911.3,153.6ZM825.3,207.7 L819.4,241.0 L792.3,262.2 L766.2,253.9ZM766.2,253.9 L792.3,262.2 L793.6,270.1 L768.9,271.1ZM828.9,205.3 L913.0,176.8 L839.4,232.2 L826.0,207.4ZM826.0,207.4 L839.4,232.2 L819.4,241.0 L825.3,207.7ZM934.7,179.6 L1002.5,200.1 L1002.5,210.1ZM768.9,271.1 L793.6,270.1 L791.5,365.9 L767.5,337.4ZM767.5,337.4 L791.5,365.9 L794.2,391.0 L773.4,391.0Z" fill="#FFFF00"/>
<path d="M918.4,173.4 L918.9,174.8 L917.4,173.4ZM917.4,173.4 L918.9,174.8 L913.0,176.8ZM934.7,179.6 L918.9,174.8 L918.4,173.4ZM819.4,241.0 L814.5,269.2 L792.3,262.2ZM792.3,262.2 L814.5,269.2 L793.6,270.1ZM913.0,176.8 L918.9,174.8 L905.3,217.5 L852.8,257.1 L839.4,232.2ZM839.4,232.2 L852.8,257.1 L819.2,271.7 L814.5,269.2 L819.4,241.0ZM918.9,174.8 L934.7,179.6 L1002.5,210.1 L1002.5,243.6 L950.4,220.1ZM918.9,174.8 L950.4,220.1 L905.3,217.5ZM793.6,270.1 L814.5,269.2 L812.6,391.0 L791.5,365.9ZM791.5,365.9 L812.6,391.0 L794.2,391.0ZM814.5,269.2 L819.2,271.7 L820.5,277.1ZM814.5,269.2 L820.5,277.1 L817.6,391.0 L812.6,391.0Z" fill="#FFAA00"/>
<path d="M905.3,217.5 L890.6,263.5 L866.2,281.9 L852.8,257.1ZM852.8,257.1 L866.2,281.9 L850.6,288.7 L819.2,271.7ZM1002.5,243.6 L1002.5,277.0 L984.2,268.8 L950.4,220.1ZM950.4,220.1 L984.2,268.8 L890.6,263.5 L905.3,217.5ZM819.2,271.7 L850.6,288.7 L860.6,329.8 L820.5,277.1ZM820.5,277.1 L860.6,329.8 L859.0,391.0 L817.6,391.0Z" fill="#FF5500"/>
<path d="M890.6,263.5 L877.9,303.5 L866.2,281.9ZM866.2,281.9 L877.9,303.5 L850.6,288.7ZM1002.5,277.0 L1002.5,295.1 L984.2,268.8ZM984.2,268.8 L1002.5,295.1 L877.9,303.5 L890.6,263.5ZM850.6,288.7 L877.9,303.5 L891.0,342.7 L900.7,382.6 L860.6,329.8ZM860.6,329.8 L900.7,382.6 L900.5,391.0 L859.0,391.0ZM877.9,303.5 L1002.5,295.1 L1002.5,325.3 L892.2,313.6ZM877.9,303.5 L892.2,313.6 L891.0,342.7Z" fill="#FF0000"/>
<path d="M891.0,342.7 L907.1,391.0 L900.7,382.6ZM900.7,382.6 L907.1,391.0 L900.5,391.0ZM1002.5,325.3 L1002.5,391.0 L892.2,313.6ZM892.2,313.6 L1002.5,391.0 L907.1,391.0 L891.0,342.7Z" fill="#AA0000"/>
</g>
</g>
<path d="M622,12h1v1h-1zM622,14h1v92h-1zM622,107h1v2h-1zM622,111h1v90h-1zM622,203h1v93h-1zM622,297h1v1h-1zM622,299h1v93h-1zM622,13h2v1h-2zM622,109h2v2h-2zM622,201h2v1h-2zM622,298h2v1h-2zM622,296h3v1h-3zM622,106h4v1h-4zM622,202h4v1h-4zM624,14h1v1h-1zM624,111h1v2h-1zM624,299h1v1h-1zM624,203h5v1h-5zM625,15h1v1h-1zM625,113h1v2h-1zM625,300h1v1h-1zM625,295h4v1h-4zM626,16h1v1h-1zM626,115h1v2h-1zM626,204h1v1h-1zM626,301h1v1h-1zM626,105h4v1h-4zM627,17h1v1h-1zM627,117h1v2h-1zM627,205h1v1h-1zM627,302h1v1h-1zM628,18h1v1h-1zM628,119h1v2h-1zM628,206h1v1h-1zM628,303h1v1h-1zM629,19h1v1h-1zM629,121h1v2h-1zM629,304h1v1h-1zM629,204h2v1h-2zM629,207h2v1h-2zM629,294h4v1h-4zM630,20h1v1h-1zM630,123h1v2h-1zM630,305h1v1h-1zM630,104h4v1h-4zM631,21h1v1h-1zM631,125h1v2h-1zM631,208h1v1h-1zM631,306h1v1h-1zM631,205h2v1h-2zM632,22h1v1h-1zM632,127h1v2h-1zM632,209h1v1h-1zM632,307h1v1h-1zM633,23h1v1h-1zM633,129h1v2h-1zM633,308h1v1h-1zM633,210h2v1h-2zM633,206h3v1h-3zM633,293h4v1h-4zM634,131h1v2h-1zM634,309h1v1h-1zM634,24h2v1h-2zM634,103h4v1h-4zM635,133h1v2h-1zM635,211h1v1h-1zM635,310h1v1h-1zM636,25h1v1h-1zM636,135h1v2h-1zM636,212h1v1h-1zM636,311h1v1h-1zM636,207h2v1h-2zM637,26h1v1h-1zM637,137h1v2h-1zM637,213h1v1h-1zM637,312h2v1h-2zM637,292h4v1h-4zM638,27h1v1h-1zM638,139h1v2h-1zM638,208h2v1h-2zM638,214h2v1h-2zM638,102h4v1h-4zM639,28h1v1h-1zM639,141h1v2h-1zM639,313h1v1h-1zM640,29h1v1h-1zM640,143h1v2h-1zM640,215h1v1h-1zM640,314h1v1h-1zM640,209h2v1h-2zM641,30h1v1h-1zM641,145h1v2h-1zM641,216h1v1h-1zM641,315h1v1h-1zM641,291h4v1h-4zM642,31h1v1h-1zM642,147h1v2h-1zM642,217h1v1h-1zM642,316h1v1h-1zM642,210h3v1h-3zM642,101h4v1h-4zM643,32h1v1h-1zM643,149h1v2h-1zM643,317h1v1h-1zM643,218h2v1h-2zM644,33h1v1h-1zM644,151h1v2h-1zM644,318h1v1h-1zM645,34h1v1h-1zM645,153h1v2h-1zM645,219h1v1h-1zM645,319h1v1h-1zM645,211h2v1h-2zM645,290h3v1h-3zM646,35h1v1h-1zM646,155h1v2h-1zM646,220h1v1h-1zM646,320h1v1h-1zM646,100h4v1h-4zM647,36h1v1h-1zM647,157h1v2h-1zM647,221h1v1h-1zM647,321h1v1h-1zM647,212h2v1h-2zM648,37h1v1h-1zM648,159h1v2h-1zM648,322h1v1h-1zM648,222h2v1h-2zM648,289h4v1h-4zM649,38h1v1h-1zM649,161h1v2h-1zM649,323h1v1h-1zM649,213h3v1h-3zM650,39h1v1h-1zM650,163h1v2h-1zM650,223h1v1h-1zM650,324h1v1h-1zM650,99h4v1h-4zM651,40h1v1h-1zM651,165h1v2h-1zM651,224h1v1h-1zM651,325h1v1h-1zM652,41h1v1h-1zM652,167h1v2h-1zM652,326h1v1h-1zM652,214h2v1h-2zM652,225h2v1h-2zM652,288h4v1h-4zM653,42h1v1h-1zM653,169h1v2h-1zM653,327h1v1h-1zM654,43h1v1h-1zM654,171h1v2h-1zM654,226h1v1h-1zM654,328h1v1h-1zM654,215h2v1h-2zM654,98h4v1h-4zM655,44h1v1h-1zM655,173h1v2h-1zM655,227h1v1h-1zM655,329h1v1h-1zM656,45h1v1h-1zM656,175h1v2h-1zM656,228h1v1h-1zM656,330h1v1h-1zM656,216h2v1h-2zM656,287h4v1h-4zM657,46h1v1h-1zM657,177h1v2h-1zM657,331h1v1h-1zM657,229h2v1h-2zM658,47h1v1h-1zM658,179h1v2h-1zM658,332h1v1h-1zM658,217h3v1h-3zM658,97h4v1h-4zM659,48h1v1h-1zM659,181h1v2h-1zM659,230h1v1h-1zM659,333h1v1h-1zM660,183h1v2h-1zM660,231h1v1h-1zM660,334h1v1h-1zM660,49h2v1h-2zM660,286h4v1h-4zM661,185h1v2h-1zM661,232h1v1h-1zM661,335h1v1h-1zM661,218h2v1h-2zM662,50h1v1h-1zM662,187h1v2h-1zM662,336h1v1h-1zM662,233h2v1h-2zM662,96h4v1h-4zM663,51h1v1h-1zM663,189h1v2h-1zM663,337h1v1h-1zM663,219h2v1h-2zM664,52h1v1h-1zM664,191h1v2h-1zM664,234h1v1h-1zM664,338h1v1h-1zM664,285h4v1h-4zM665,53h1v1h-1zM665,193h1v2h-1zM665,235h1v1h-1zM665,339h1v1h-1zM665,220h3v1h-3zM666,54h1v1h-1zM666,195h1v2h-1zM666,236h1v1h-1zM666,340h1v1h-1zM666,95h4v1h-4zM667,55h1v1h-1zM667,197h1v2h-1zM667,341h1v1h-1zM667,237h2v1h-2zM668,56h1v1h-1zM668,199h1v2h-1zM668,342h1v1h-1zM668,221h2v1h-2zM668,284h4v1h-4zM669,57h1v1h-1zM669,201h1v2h-1zM669,238h1v1h-1zM669,343h1v1h-1zM670,58h1v1h-1zM670,203h1v2h-1zM670,239h1v1h-1zM670,344h1v1h-1zM670,222h2v1h-2zM670,94h4v1h-4zM671,59h1v1h-1zM671,205h1v2h-1zM671,345h1v1h-1zM671,240h2v1h-2zM672,60h1v1h-1zM672,207h1v2h-1zM672,346h1v1h-1zM672,223h2v1h-2zM672,283h4v1h-4zM673,61h1v1h-1zM673,209h1v2h-1zM673,241h1v1h-1zM673,347h1v1h-1zM674,62h1v1h-1zM674,211h1v2h-1zM674,242h1v1h-1zM674,348h1v1h-1zM674,224h3v1h-3zM674,93h4v1h-4zM675,63h1v1h-1zM675,213h1v2h-1zM675,243h1v1h-1zM675,349h1v1h-1zM676,64h1v1h-1zM676,215h1v2h-1zM676,350h1v1h-1zM676,244h2v1h-2zM676,282h4v1h-4zM677,65h1v1h-1zM677,217h1v2h-1zM677,351h1v1h-1zM677,225h2v1h-2zM678,66h1v1h-1zM678,219h1v2h-1zM678,245h1v1h-1zM678,352h1v1h-1zM678,92h4v1h-4zM679,67h1v1h-1zM679,221h1v2h-1zM679,246h1v1h-1zM679,353h1v1h-1zM679,226h4v1h-4zM680,68h1v1h-1zM680,223h1v2h-1zM680,247h1v1h-1zM680,354h1v1h-1zM680,281h4v1h-4zM681,69h1v1h-1zM681,355h1v1h-1zM681,225h2v1h-2zM681,248h2v1h-2zM681,227h3v1h-3zM682,70h1v1h-1zM682,220h1v5h-1zM682,228h1v1h-1zM682,356h1v1h-1zM682,91h4v1h-4zM683,71h1v1h-1zM683,212h1v8h-1zM683,229h1v1h-1zM683,249h1v1h-1zM683,357h1v1h-1zM684,72h1v1h-1zM684,204h1v8h-1zM684,230h1v2h-1zM684,250h1v1h-1zM684,358h1v1h-1zM684,228h3v1h-3zM684,280h4v1h-4zM684,226h7v1h-7zM685,73h1v1h-1zM685,197h1v7h-1zM685,232h1v1h-1zM685,251h1v1h-1zM685,359h1v1h-1zM686,189h1v8h-1zM686,233h1v2h-1zM686,360h1v1h-1zM686,74h2v1h-2zM686,252h2v1h-2zM686,90h4v1h-4zM687,182h1v7h-1zM687,235h1v1h-1zM687,361h1v1h-1zM687,229h4v1h-4zM688,75h1v1h-1zM688,174h1v8h-1zM688,236h1v2h-1zM688,253h1v1h-1zM688,362h1v1h-1zM688,279h4v1h-4zM689,76h1v1h-1zM689,166h1v8h-1zM689,238h1v1h-1zM689,254h1v1h-1zM689,363h1v1h-1zM690,77h1v1h-1zM690,159h1v7h-1zM690,239h1v1h-1zM690,364h1v1h-1zM690,255h2v1h-2zM690,89h4v1h-4zM691,78h1v1h-1zM691,151h1v8h-1zM691,240h1v2h-1zM691,365h1v1h-1zM691,230h3v1h-3zM691,225h7v1h-7zM692,79h1v1h-1zM692,144h1v7h-1zM692,242h1v1h-1zM692,256h1v1h-1zM692,366h1v1h-1zM692,278h4v1h-4zM693,80h1v1h-1zM693,136h1v8h-1zM693,243h1v2h-1zM693,257h1v1h-1zM693,367h1v1h-1zM694,81h1v1h-1zM694,128h1v8h-1zM694,245h1v1h-1zM694,258h1v1h-1zM694,368h1v1h-1zM694,231h3v1h-3zM694,88h4v1h-4zM695,82h1v1h-1zM695,121h1v7h-1zM695,246h1v2h-1zM695,369h1v1h-1zM695,259h2v1h-2zM696,83h1v1h-1zM696,113h1v8h-1zM696,248h1v1h-1zM696,370h1v1h-1zM696,277h4v1h-4zM697,84h1v1h-1zM697,106h1v7h-1zM697,249h1v2h-1zM697,260h1v1h-1zM697,371h1v1h-1zM697,232h3v1h-3zM698,85h1v1h-1zM698,98h1v8h-1zM698,251h1v1h-1zM698,261h1v1h-1zM698,372h1v1h-1zM698,224h7v1h-7zM698,87h8v1h-8zM699,90h1v8h-1zM699,252h1v2h-1zM699,262h1v1h-1zM699,373h1v1h-1zM699,86h2v1h-2zM700,85h1v1h-1zM700,89h1v1h-1zM700,254h1v1h-1zM700,374h1v1h-1zM700,88h2v1h-2zM700,263h2v1h-2zM700,233h3v1h-3zM700,276h4v1h-4zM701,81h1v4h-1zM701,255h1v1h-1zM701,375h1v1h-1zM702,76h1v5h-1zM702,89h1v1h-1zM702,256h1v2h-1zM702,264h1v1h-1zM702,376h1v1h-1zM703,72h1v4h-1zM703,90h1v1h-1zM703,258h1v1h-1zM703,265h1v1h-1zM703,377h1v1h-1zM703,234h3v1h-3zM704,68h1v4h-1zM704,91h1v1h-1zM704,259h1v2h-1zM704,266h1v1h-1zM704,378h1v1h-1zM704,275h4v1h-4zM705,63h1v5h-1zM705,92h1v1h-1zM705,261h1v1h-1zM705,379h1v1h-1zM705,267h2v1h-2zM705,223h7v1h-7zM706,59h1v4h-1zM706,93h1v1h-1zM706,262h1v2h-1zM706,380h1v1h-1zM706,235h4v1h-4zM706,86h13v1h-13zM707,55h1v4h-1zM707,94h1v1h-1zM707,264h1v1h-1zM707,268h1v1h-1zM707,381h1v1h-1zM708,50h1v5h-1zM708,95h1v1h-1zM708,265h1v2h-1zM708,269h1v1h-1zM708,382h1v1h-1zM708,274h4v1h-4zM709,46h1v4h-1zM709,96h1v1h-1zM709,267h1v1h-1zM709,383h1v1h-1zM709,270h3v1h-3zM710,42h1v4h-1zM710,268h1v2h-1zM710,384h1v1h-1zM710,97h2v1h-2zM710,236h3v1h-3zM711,37h1v5h-1zM711,385h1v1h-1zM711,271h2v1h-2zM712,33h1v4h-1zM712,98h1v1h-1zM712,386h1v1h-1zM712,272h2v1h-2zM712,222h6v1h-6zM712,273h13v1h-13zM713,29h1v4h-1zM713,99h1v1h-1zM713,275h1v8h-1zM713,387h1v1h-1zM713,274h2v1h-2zM713,237h3v1h-3zM714,24h1v5h-1zM714,100h1v1h-1zM714,283h1v31h-1zM714,388h1v1h-1zM715,20h1v4h-1zM715,101h1v1h-1zM715,275h1v1h-1zM715,314h1v31h-1zM715,389h1v1h-1zM716,16h1v4h-1zM716,102h1v1h-1zM716,276h1v1h-1zM716,345h1v31h-1zM716,390h2v1h-2zM716,238h3v1h-3zM717,13h1v3h-1zM717,103h1v1h-1zM717,277h1v2h-1zM717,376h1v14h-1zM717,391h1v1h-1zM717,12h2v1h-2zM718,104h1v1h-1zM718,279h1v1h-1zM718,221h7v1h-7zM719,105h1v1h-1zM719,280h1v1h-1zM719,13h2v1h-2zM719,239h3v1h-3zM719,85h13v1h-13zM720,106h1v1h-1zM720,281h1v1h-1zM721,107h1v1h-1zM721,282h1v1h-1zM721,14h2v1h-2zM722,108h1v1h-1zM722,283h1v2h-1zM722,240h3v1h-3zM723,15h1v1h-1zM723,109h1v1h-1zM723,285h1v1h-1zM724,110h1v1h-1zM724,286h1v1h-1zM724,16h2v1h-2zM725,111h1v1h-1zM725,287h1v1h-1zM725,241h3v1h-3zM725,220h7v1h-7zM725,272h24v1h-24zM726,17h1v1h-1zM726,112h1v1h-1zM726,288h1v1h-1zM727,113h1v1h-1zM727,289h1v1h-1zM727,18h2v1h-2zM728,114h1v1h-1zM728,290h1v2h-1zM728,242h4v1h-4zM729,19h1v1h-1zM729,115h1v1h-1zM729,292h1v1h-1zM730,293h1v1h-1zM730,20h2v1h-2zM730,116h2v1h-2zM731,294h1v1h-1zM732,21h1v1h-1zM732,117h1v1h-1zM732,295h1v1h-1zM732,243h3v1h-3zM732,219h7v1h-7zM732,84h13v1h-13zM733,118h1v1h-1zM733,296h1v2h-1zM733,22h2v1h-2zM734,119h1v1h-1zM734,298h1v1h-1zM735,23h1v1h-1zM735,120h1v1h-1zM735,299h1v1h-1zM735,244h3v1h-3zM736,121h1v1h-1zM736,300h1v1h-1zM736,24h2v1h-2zM737,122h1v1h-1zM737,301h1v1h-1zM738,25h1v1h-1zM738,123h1v1h-1zM738,302h1v2h-1zM738,245h3v1h-3zM739,124h1v1h-1zM739,304h1v1h-1zM739,26h2v1h-2zM739,218h7v1h-7zM740,125h1v1h-1zM740,305h1v1h-1zM741,27h1v1h-1zM741,126h1v1h-1zM741,306h1v1h-1zM741,246h3v1h-3zM742,127h1v1h-1zM742,307h1v1h-1zM742,28h2v1h-2zM743,128h1v1h-1zM743,308h1v1h-1zM744,129h1v1h-1zM744,309h1v2h-1zM744,29h2v1h-2zM744,247h3v1h-3zM745,130h1v1h-1zM745,311h1v1h-1zM745,83h13v1h-13zM746,30h1v1h-1zM746,131h1v1h-1zM746,312h1v1h-1zM746,217h7v1h-7zM747,132h1v1h-1zM747,313h1v1h-1zM747,31h2v1h-2zM747,248h4v1h-4zM748,133h1v1h-1zM748,314h1v1h-1zM749,32h1v1h-1zM749,134h1v1h-1zM749,315h1v2h-1zM749,271h23v1h-23zM750,135h1v1h-1zM750,317h1v1h-1zM750,33h2v1h-2zM751,318h1v1h-1zM751,136h2v1h-2zM751,249h3v1h-3zM752,34h1v1h-1zM752,319h1v1h-1zM753,137h1v1h-1zM753,320h1v1h-1zM753,35h2v1h-2zM753,216h7v1h-7zM754,138h1v1h-1zM754,321h1v2h-1zM754,250h3v1h-3zM755,36h1v1h-1zM755,139h1v1h-1zM755,323h1v1h-1zM756,140h1v1h-1zM756,324h1v1h-1zM756,37h2v1h-2zM757,141h1v1h-1zM757,325h1v1h-1zM757,251h3v1h-3zM758,38h1v1h-1zM758,142h1v1h-1zM758,326h1v1h-1zM758,82h13v1h-13zM759,143h1v1h-1zM759,327h1v2h-1zM759,39h2v1h-2zM760,144h1v1h-1zM760,329h1v1h-1zM760,252h3v1h-3zM760,215h6v1h-6zM761,40h1v1h-1zM761,145h1v1h-1zM761,330h1v1h-1zM762,146h1v1h-1zM762,331h1v1h-1zM762,41h2v1h-2zM763,147h1v1h-1zM763,332h1v1h-1zM763,253h3v1h-3zM764,42h1v1h-1zM764,148h1v1h-1zM764,333h1v1h-1zM765,149h1v1h-1zM765,334h1v2h-1zM765,43h2v1h-2zM766,150h1v1h-1zM766,336h1v1h-1zM766,254h4v1h-4zM766,214h7v1h-7zM767,151h1v1h-1zM767,337h1v1h-1zM767,44h2v1h-2zM768,152h1v1h-1zM768,338h1v1h-1zM769,45h1v1h-1zM769,153h1v1h-1zM769,339h1v1h-1zM770,154h1v1h-1zM770,340h1v2h-1zM770,46h2v1h-2zM770,255h3v1h-3zM771,342h1v1h-1zM771,155h2v1h-2zM771,81h13v1h-13zM772,47h1v1h-1zM772,343h1v1h-1zM772,270h24v1h-24zM773,156h1v1h-1zM773,344h1v1h-1zM773,48h2v1h-2zM773,256h3v1h-3zM773,213h7v1h-7zM774,157h1v1h-1zM774,345h1v1h-1zM775,49h1v1h-1zM775,158h1v1h-1zM775,346h1v2h-1zM776,159h1v1h-1zM776,348h1v1h-1zM776,50h2v1h-2zM776,257h3v1h-3zM777,160h1v1h-1zM777,349h1v1h-1zM778,51h1v1h-1zM778,161h1v1h-1zM778,350h1v1h-1zM779,162h1v1h-1zM779,351h1v1h-1zM779,52h2v1h-2zM779,258h3v1h-3zM780,163h1v1h-1zM780,352h1v1h-1zM780,212h7v1h-7zM781,53h1v1h-1zM781,164h1v1h-1zM781,353h1v2h-1zM782,165h1v1h-1zM782,355h1v1h-1zM782,54h2v1h-2zM782,259h3v1h-3zM783,166h1v1h-1zM783,356h1v1h-1zM784,55h1v1h-1zM784,167h1v1h-1zM784,357h1v1h-1zM784,80h13v1h-13zM785,168h1v1h-1zM785,358h1v1h-1zM785,56h2v1h-2zM785,260h4v1h-4zM786,169h1v1h-1zM786,359h1v2h-1zM787,170h1v1h-1zM787,361h1v1h-1zM787,57h2v1h-2zM787,211h7v1h-7zM788,171h1v1h-1zM788,362h1v1h-1zM789,58h1v1h-1zM789,172h1v1h-1zM789,363h1v1h-1zM789,261h3v1h-3zM790,173h1v1h-1zM790,364h1v1h-1zM790,59h2v1h-2zM791,174h1v1h-1zM791,365h1v2h-1zM792,60h1v1h-1zM792,367h1v1h-1zM792,175h2v1h-2zM792,262h3v1h-3zM793,368h1v1h-1zM793,61h2v1h-2zM794,176h1v1h-1zM794,369h1v1h-1zM794,210h7v1h-7zM795,62h1v1h-1zM795,177h1v1h-1zM795,370h1v1h-1zM795,263h3v1h-3zM796,178h1v1h-1zM796,371h1v1h-1zM796,63h2v1h-2zM796,269h20v1h-20zM797,179h1v1h-1zM797,372h1v2h-1zM797,79h14v1h-14zM798,64h1v1h-1zM798,180h1v1h-1zM798,374h1v1h-1zM798,264h3v1h-3zM799,181h1v1h-1zM799,375h1v1h-1zM799,65h2v1h-2zM800,182h1v1h-1zM800,376h1v1h-1zM801,66h1v1h-1zM801,183h1v1h-1zM801,377h1v1h-1zM801,265h3v1h-3zM801,209h7v1h-7zM802,184h1v1h-1zM802,378h1v2h-1zM802,67h2v1h-2zM803,185h1v1h-1zM803,380h1v1h-1zM804,68h1v1h-1zM804,186h1v1h-1zM804,381h1v1h-1zM804,266h4v1h-4zM805,187h1v1h-1zM805,382h1v1h-1zM805,69h2v1h-2zM806,188h1v1h-1zM806,383h1v1h-1zM807,70h1v1h-1zM807,189h1v1h-1zM807,384h1v2h-1zM808,190h1v1h-1zM808,386h1v1h-1zM808,71h2v1h-2zM808,267h3v1h-3zM808,208h7v1h-7zM809,191h1v1h-1zM809,387h1v1h-1zM810,192h1v1h-1zM810,388h1v1h-1zM810,72h2v1h-2zM811,193h1v1h-1zM811,389h2v1h-2zM811,268h4v1h-4zM811,78h11v1h-11zM812,73h1v1h-1zM812,365h1v24h-1zM812,390h1v2h-1zM812,194h2v1h-2zM813,12h1v1h-1zM813,14h1v8h-1zM813,301h1v64h-1zM813,13h2v1h-2zM813,74h2v1h-2zM814,22h1v10h-1zM814,195h1v1h-1zM814,266h1v2h-1zM814,271h1v30h-1zM814,270h4v1h-4zM815,14h1v1h-1zM815,32h1v10h-1zM815,75h1v1h-1zM815,196h1v1h-1zM815,261h1v5h-1zM815,207h6v1h-6zM816,15h1v2h-1zM816,42h1v10h-1zM816,197h1v1h-1zM816,255h1v6h-1zM816,271h1v1h-1zM816,76h2v1h-2zM817,17h1v1h-1zM817,52h1v9h-1zM817,198h1v1h-1zM817,249h1v6h-1zM817,272h1v2h-1zM818,18h1v1h-1zM818,61h1v10h-1zM818,199h1v1h-1zM818,244h1v5h-1zM818,274h1v1h-1zM818,77h2v1h-2zM818,271h2v1h-2zM819,19h1v1h-1zM819,71h1v6h-1zM819,80h1v5h-1zM819,200h1v1h-1zM819,238h1v6h-1zM819,275h1v1h-1zM819,79h2v1h-2zM820,20h1v1h-1zM820,85h1v22h-1zM820,201h1v1h-1zM820,232h1v6h-1zM820,276h1v2h-1zM820,272h2v1h-2zM821,21h1v1h-1zM821,80h1v1h-1zM821,107h1v22h-1zM821,202h1v1h-1zM821,226h1v6h-1zM821,278h1v1h-1zM821,206h6v1h-6zM822,22h1v1h-1zM822,129h1v22h-1zM822,203h1v1h-1zM822,221h1v5h-1zM822,273h1v1h-1zM822,279h1v1h-1zM822,81h2v1h-2zM822,79h3v1h-3zM823,23h1v1h-1zM823,151h1v22h-1zM823,204h1v1h-1zM823,215h1v6h-1zM823,280h1v2h-1zM823,274h2v1h-2zM824,24h1v2h-1zM824,82h1v1h-1zM824,173h1v22h-1zM824,209h1v6h-1zM824,282h1v1h-1zM824,205h2v1h-2zM825,26h1v1h-1zM825,83h1v1h-1zM825,195h1v10h-1zM825,283h1v1h-1zM825,207h2v2h-2zM825,275h2v1h-2zM825,80h3v1h-3zM826,27h1v1h-1zM826,84h1v1h-1zM826,284h1v2h-1zM827,28h1v1h-1zM827,85h1v1h-1zM827,209h1v2h-1zM827,286h1v1h-1zM827,276h2v1h-2zM827,205h3v1h-3zM828,29h1v1h-1zM828,86h1v1h-1zM828,211h1v2h-1zM828,287h1v1h-1zM828,81h3v1h-3zM829,30h1v1h-1zM829,87h1v1h-1zM829,213h1v2h-1zM829,288h1v2h-1zM829,277h2v1h-2zM830,31h1v1h-1zM830,88h1v1h-1zM830,215h1v2h-1zM830,290h1v1h-1zM830,204h3v1h-3zM831,32h1v1h-1zM831,89h1v1h-1zM831,217h1v1h-1zM831,291h1v1h-1zM831,278h2v1h-2zM831,82h3v1h-3zM832,33h1v2h-1zM832,90h1v1h-1zM832,218h1v2h-1zM832,292h1v2h-1zM833,35h1v1h-1zM833,91h1v1h-1zM833,220h1v2h-1zM833,279h1v1h-1zM833,294h1v1h-1zM833,203h3v1h-3zM834,36h1v1h-1zM834,92h1v1h-1zM834,222h1v2h-1zM834,295h1v1h-1zM834,280h2v1h-2zM834,83h3v1h-3zM835,37h1v1h-1zM835,93h1v1h-1zM835,224h1v2h-1zM835,296h1v1h-1zM836,38h1v1h-1zM836,94h1v1h-1zM836,226h1v2h-1zM836,297h1v2h-1zM836,281h2v1h-2zM836,202h3v1h-3zM837,39h1v1h-1zM837,95h1v1h-1zM837,228h1v2h-1zM837,299h1v1h-1zM837,84h3v1h-3zM838,40h1v1h-1zM838,96h1v1h-1zM838,230h1v1h-1zM838,300h1v1h-1zM838,282h2v1h-2zM839,41h1v2h-1zM839,97h1v1h-1zM839,231h1v2h-1zM839,301h1v2h-1zM839,201h2v1h-2zM840,43h1v1h-1zM840,98h1v1h-1zM840,233h1v2h-1zM840,303h1v1h-1zM840,283h2v1h-2zM840,85h3v1h-3zM841,44h1v1h-1zM841,99h1v1h-1zM841,235h1v2h-1zM841,304h1v1h-1zM841,200h3v1h-3zM842,45h1v1h-1zM842,100h1v1h-1zM842,237h1v2h-1zM842,305h1v2h-1zM842,284h2v1h-2zM843,46h1v1h-1zM843,101h1v1h-1zM843,239h1v2h-1zM843,307h1v1h-1zM843,86h3v1h-3zM844,47h1v1h-1zM844,102h1v1h-1zM844,241h1v2h-1zM844,308h1v1h-1zM844,285h2v1h-2zM844,199h3v1h-3zM845,48h1v1h-1zM845,103h1v1h-1zM845,243h1v1h-1zM845,309h1v2h-1zM846,49h1v1h-1zM846,104h1v1h-1zM846,244h1v2h-1zM846,286h1v1h-1zM846,311h1v1h-1zM846,87h3v1h-3zM847,50h1v2h-1zM847,105h1v1h-1zM847,246h1v2h-1zM847,312h1v1h-1zM847,287h2v1h-2zM847,198h3v1h-3zM848,52h1v1h-1zM848,106h1v1h-1zM848,248h1v2h-1zM848,313h1v2h-1zM849,53h1v1h-1zM849,107h1v1h-1zM849,250h1v2h-1zM849,315h1v1h-1zM849,288h2v1h-2zM849,88h3v1h-3zM850,54h1v1h-1zM850,108h1v1h-1zM850,252h1v2h-1zM850,316h1v1h-1zM850,197h3v1h-3zM851,55h1v1h-1zM851,109h1v1h-1zM851,254h1v2h-1zM851,317h1v2h-1zM851,289h2v1h-2zM852,56h1v1h-1zM852,110h1v1h-1zM852,256h1v1h-1zM852,319h1v1h-1zM852,89h3v1h-3zM853,57h1v1h-1zM853,111h1v1h-1zM853,257h1v2h-1zM853,320h1v1h-1zM853,290h2v1h-2zM853,196h3v1h-3zM854,58h1v1h-1zM854,112h1v1h-1zM854,259h1v2h-1zM854,321h1v1h-1zM855,59h1v2h-1zM855,113h1v1h-1zM855,261h1v2h-1zM855,322h1v2h-1zM855,291h2v1h-2zM855,90h4v1h-4zM856,61h1v1h-1zM856,114h1v1h-1zM856,263h1v2h-1zM856,324h1v1h-1zM856,195h3v1h-3zM857,62h1v1h-1zM857,115h1v1h-1zM857,265h1v2h-1zM857,292h1v1h-1zM857,325h1v1h-1zM858,63h1v1h-1zM858,116h1v1h-1zM858,267h1v1h-1zM858,326h1v2h-1zM858,293h2v1h-2zM859,64h1v1h-1zM859,268h1v2h-1zM859,328h1v1h-1zM859,117h2v1h-2zM859,91h3v1h-3zM859,194h3v1h-3zM860,65h1v1h-1zM860,270h1v2h-1zM860,329h1v1h-1zM860,294h2v1h-2zM861,66h1v1h-1zM861,118h1v1h-1zM861,272h1v2h-1zM861,330h1v2h-1zM862,67h1v2h-1zM862,119h1v1h-1zM862,274h1v2h-1zM862,332h1v1h-1zM862,295h2v1h-2zM862,92h3v1h-3zM862,193h3v1h-3zM863,69h1v1h-1zM863,120h1v1h-1zM863,276h1v2h-1zM863,333h1v1h-1zM864,70h1v1h-1zM864,121h1v1h-1zM864,278h1v2h-1zM864,334h1v2h-1zM864,296h2v1h-2zM865,71h1v1h-1zM865,122h1v1h-1zM865,280h1v1h-1zM865,336h1v1h-1zM865,93h3v1h-3zM865,192h3v1h-3zM866,72h1v1h-1zM866,123h1v1h-1zM866,281h1v2h-1zM866,337h1v1h-1zM866,297h2v1h-2zM867,73h1v1h-1zM867,124h1v1h-1zM867,283h1v2h-1zM867,338h1v2h-1zM868,74h1v1h-1zM868,125h1v1h-1zM868,285h1v2h-1zM868,340h1v1h-1zM868,298h2v1h-2zM868,94h3v1h-3zM868,191h3v1h-3zM869,75h1v1h-1zM869,126h1v1h-1zM869,287h1v2h-1zM869,341h1v1h-1zM870,76h1v2h-1zM870,127h1v1h-1zM870,289h1v2h-1zM870,299h1v1h-1zM870,342h1v2h-1zM871,78h1v1h-1zM871,128h1v1h-1zM871,291h1v2h-1zM871,344h1v1h-1zM871,300h2v1h-2zM871,95h3v1h-3zM871,190h3v1h-3zM872,79h1v1h-1zM872,129h1v1h-1zM872,293h1v1h-1zM872,345h1v1h-1zM873,80h1v1h-1zM873,130h1v1h-1zM873,294h1v2h-1zM873,346h1v1h-1zM873,301h2v1h-2zM874,81h1v1h-1zM874,131h1v1h-1zM874,296h1v2h-1zM874,347h1v2h-1zM874,96h3v1h-3zM874,189h3v1h-3zM875,82h1v1h-1zM875,132h1v1h-1zM875,298h1v2h-1zM875,349h1v1h-1zM875,302h4v1h-4zM876,83h1v1h-1zM876,133h1v1h-1zM876,300h1v2h-1zM876,350h1v1h-1zM877,84h1v1h-1zM877,134h1v1h-1zM877,351h1v2h-1zM877,97h3v1h-3zM877,188h3v1h-3zM877,303h8v1h-8zM878,85h1v2h-1zM878,135h1v1h-1zM878,300h1v2h-1zM878,305h1v2h-1zM878,353h1v1h-1zM878,304h2v1h-2zM879,87h1v1h-1zM879,136h1v1h-1zM879,297h1v3h-1zM879,307h1v3h-1zM879,354h1v1h-1zM880,88h1v1h-1zM880,137h1v1h-1zM880,294h1v3h-1zM880,305h1v1h-1zM880,310h1v3h-1zM880,355h1v2h-1zM880,98h3v1h-3zM880,187h3v1h-3zM881,89h1v1h-1zM881,138h1v1h-1zM881,291h1v3h-1zM881,313h1v3h-1zM881,357h1v1h-1zM881,306h2v1h-2zM882,90h1v1h-1zM882,139h1v1h-1zM882,287h1v4h-1zM882,316h1v3h-1zM882,358h1v1h-1zM883,91h1v1h-1zM883,140h1v1h-1zM883,284h1v3h-1zM883,307h1v1h-1zM883,319h1v3h-1zM883,359h1v2h-1zM883,99h3v1h-3zM883,186h3v1h-3zM884,92h1v1h-1zM884,141h1v1h-1zM884,281h1v3h-1zM884,322h1v3h-1zM884,361h1v1h-1zM884,308h2v1h-2zM885,93h1v2h-1zM885,142h1v1h-1zM885,278h1v3h-1zM885,325h1v3h-1zM885,362h1v1h-1zM885,302h15v1h-15zM886,95h1v1h-1zM886,143h1v1h-1zM886,275h1v3h-1zM886,309h1v1h-1zM886,328h1v3h-1zM886,363h1v2h-1zM886,100h3v1h-3zM886,185h3v1h-3zM887,96h1v1h-1zM887,144h1v1h-1zM887,272h1v3h-1zM887,331h1v3h-1zM887,365h1v1h-1zM887,310h2v1h-2zM888,97h1v1h-1zM888,145h1v1h-1zM888,269h1v3h-1zM888,334h1v3h-1zM888,366h1v1h-1zM889,98h1v1h-1zM889,146h1v1h-1zM889,266h1v3h-1zM889,311h1v1h-1zM889,337h1v3h-1zM889,367h1v2h-1zM889,184h3v1h-3zM889,101h4v1h-4zM890,99h1v1h-1zM890,147h1v1h-1zM890,262h1v4h-1zM890,312h1v1h-1zM890,340h1v3h-1zM890,369h1v1h-1zM891,100h1v1h-1zM891,148h1v1h-1zM891,259h1v3h-1zM891,343h1v3h-1zM891,370h1v1h-1zM891,313h2v1h-2zM892,149h1v1h-1zM892,256h1v3h-1zM892,346h1v3h-1zM892,371h1v1h-1zM892,183h3v1h-3zM892,102h19v1h-19zM893,95h1v6h-1zM893,104h1v2h-1zM893,150h1v1h-1zM893,253h1v3h-1zM893,314h1v1h-1zM893,349h1v3h-1zM893,372h1v2h-1zM893,103h2v1h-2zM894,89h1v6h-1zM894,106h1v2h-1zM894,151h1v1h-1zM894,250h1v3h-1zM894,352h1v3h-1zM894,374h1v1h-1zM894,315h2v1h-2zM895,83h1v6h-1zM895,104h1v1h-1zM895,108h1v3h-1zM895,152h1v1h-1zM895,247h1v3h-1zM895,355h1v3h-1zM895,375h1v1h-1zM895,182h3v1h-3zM896,76h1v7h-1zM896,105h1v1h-1zM896,111h1v3h-1zM896,244h1v3h-1zM896,316h1v1h-1zM896,358h1v3h-1zM896,376h1v2h-1zM896,153h2v1h-2zM897,70h1v6h-1zM897,106h1v1h-1zM897,114h1v3h-1zM897,240h1v4h-1zM897,361h1v3h-1zM897,378h1v1h-1zM897,317h2v1h-2zM898,64h1v6h-1zM898,107h1v1h-1zM898,117h1v2h-1zM898,154h1v1h-1zM898,237h1v3h-1zM898,364h1v3h-1zM898,379h1v1h-1zM898,181h3v1h-3zM899,58h1v6h-1zM899,108h1v1h-1zM899,119h1v3h-1zM899,155h1v1h-1zM899,234h1v3h-1zM899,318h1v1h-1zM899,367h1v3h-1zM899,380h1v2h-1zM900,52h1v6h-1zM900,122h1v3h-1zM900,156h1v1h-1zM900,231h1v3h-1zM900,319h1v1h-1zM900,370h1v3h-1zM900,382h1v1h-1zM900,109h2v1h-2zM900,301h15v1h-15zM901,46h1v6h-1zM901,125h1v3h-1zM901,157h1v1h-1zM901,228h1v3h-1zM901,373h1v3h-1zM901,383h1v1h-1zM901,320h2v1h-2zM901,180h3v1h-3zM902,40h1v6h-1zM902,110h1v1h-1zM902,128h1v3h-1zM902,158h1v1h-1zM902,225h1v3h-1zM902,376h1v3h-1zM902,384h1v2h-1zM903,33h1v7h-1zM903,111h1v1h-1zM903,131h1v2h-1zM903,159h1v1h-1zM903,222h1v3h-1zM903,321h1v1h-1zM903,379h1v3h-1zM903,386h1v1h-1zM904,27h1v6h-1zM904,112h1v1h-1zM904,133h1v3h-1zM904,160h1v1h-1zM904,218h1v4h-1zM904,382h1v3h-1zM904,179h2v1h-2zM904,322h2v1h-2zM904,387h2v1h-2zM905,21h1v6h-1zM905,113h1v1h-1zM905,136h1v3h-1zM905,161h1v1h-1zM905,215h1v3h-1zM905,385h1v2h-1zM905,388h2v2h-2zM906,15h1v6h-1zM906,114h1v1h-1zM906,139h1v3h-1zM906,162h1v1h-1zM906,212h1v3h-1zM906,323h1v1h-1zM906,390h1v1h-1zM906,178h3v1h-3zM907,12h1v1h-1zM907,14h1v1h-1zM907,115h1v1h-1zM907,142h1v2h-1zM907,163h1v1h-1zM907,209h1v3h-1zM907,391h1v1h-1zM907,13h2v1h-2zM907,324h2v1h-2zM908,116h1v1h-1zM908,144h1v3h-1zM908,164h1v1h-1zM908,206h1v3h-1zM909,14h1v1h-1zM909,147h1v3h-1zM909,165h1v1h-1zM909,203h1v3h-1zM909,325h1v1h-1zM909,117h2v1h-2zM909,177h3v1h-3zM910,15h1v1h-1zM910,150h1v3h-1zM910,166h1v1h-1zM910,200h1v3h-1zM910,326h1v1h-1zM911,16h1v1h-1zM911,118h1v1h-1zM911,153h1v3h-1zM911,167h1v1h-1zM911,196h1v4h-1zM911,327h2v1h-2zM911,103h22v1h-22zM912,17h1v1h-1zM912,119h1v1h-1zM912,156h1v2h-1zM912,168h1v1h-1zM912,193h1v3h-1zM912,176h3v1h-3zM913,18h1v1h-1zM913,120h1v1h-1zM913,158h1v3h-1zM913,169h1v1h-1zM913,190h1v3h-1zM913,328h1v1h-1zM914,19h1v1h-1zM914,121h1v1h-1zM914,161h1v3h-1zM914,170h1v1h-1zM914,187h1v3h-1zM914,329h2v1h-2zM915,20h1v1h-1zM915,122h1v1h-1zM915,164h1v3h-1zM915,171h1v1h-1zM915,184h1v3h-1zM915,175h8v1h-8zM915,300h15v1h-15zM916,21h1v1h-1zM916,123h1v1h-1zM916,167h1v3h-1zM916,172h1v1h-1zM916,181h1v3h-1zM916,330h1v1h-1zM917,22h1v1h-1zM917,124h1v1h-1zM917,170h1v2h-1zM917,178h1v3h-1zM917,331h1v1h-1zM917,173h2v1h-2zM918,23h1v1h-1zM918,125h1v1h-1zM918,172h1v1h-1zM918,176h1v2h-1zM918,174h2v1h-2zM918,332h2v1h-2zM919,24h1v1h-1zM919,126h2v1h-2zM920,25h1v1h-1zM920,176h1v2h-1zM920,333h1v1h-1zM921,26h1v1h-1zM921,127h1v1h-1zM921,178h1v1h-1zM921,334h2v1h-2zM922,27h1v1h-1zM922,128h1v1h-1zM922,179h1v2h-1zM923,28h1v1h-1zM923,129h1v1h-1zM923,181h1v1h-1zM923,335h1v1h-1zM923,176h3v1h-3zM924,29h1v1h-1zM924,130h1v1h-1zM924,182h1v2h-1zM924,336h2v1h-2zM925,30h1v1h-1zM925,131h1v1h-1zM925,184h1v1h-1zM926,31h1v1h-1zM926,132h1v1h-1zM926,185h1v1h-1zM926,337h1v1h-1zM926,177h3v1h-3zM927,32h1v1h-1zM927,133h1v1h-1zM927,186h1v2h-1zM927,338h1v1h-1zM928,33h1v1h-1zM928,188h1v1h-1zM928,134h2v1h-2zM928,339h2v1h-2zM929,34h1v1h-1zM929,189h1v2h-1zM929,178h4v1h-4zM930,35h1v1h-1zM930,135h1v1h-1zM930,191h1v1h-1zM930,340h1v1h-1zM930,299h15v1h-15zM931,36h1v1h-1zM931,136h1v1h-1zM931,192h1v2h-1zM931,341h2v1h-2zM932,37h1v1h-1zM932,137h1v1h-1zM932,194h1v1h-1zM933,38h1v1h-1zM933,138h1v1h-1zM933,195h1v2h-1zM933,342h1v1h-1zM933,179h3v1h-3zM933,104h22v1h-22zM934,39h1v1h-1zM934,139h1v1h-1zM934,197h1v1h-1zM934,343h2v1h-2zM935,40h1v1h-1zM935,140h1v1h-1zM935,198h1v1h-1zM936,41h1v1h-1zM936,141h1v1h-1zM936,199h1v2h-1zM936,344h1v1h-1zM936,180h3v1h-3zM937,42h1v1h-1zM937,201h1v1h-1zM937,345h1v1h-1zM937,142h2v1h-2zM938,43h1v1h-1zM938,202h1v2h-1zM938,346h2v1h-2zM939,44h1v1h-1zM939,143h1v1h-1zM939,204h1v1h-1zM939,181h4v1h-4zM940,45h1v1h-1zM940,144h1v1h-1zM940,205h1v2h-1zM940,347h1v1h-1zM941,46h1v1h-1zM941,145h1v1h-1zM941,207h1v1h-1zM941,348h2v1h-2zM942,47h1v1h-1zM942,146h1v1h-1zM942,208h1v1h-1zM943,48h1v1h-1zM943,147h1v1h-1zM943,209h1v2h-1zM943,349h1v1h-1zM943,182h3v1h-3zM944,49h1v1h-1zM944,148h1v1h-1zM944,211h1v1h-1zM944,350h2v1h-2zM945,50h1v1h-1zM945,149h1v1h-1zM945,212h1v2h-1zM945,298h14v1h-14zM946,51h1v1h-1zM946,150h1v1h-1zM946,214h1v1h-1zM946,351h1v1h-1zM946,183h3v1h-3zM947,52h1v1h-1zM947,215h1v2h-1zM947,352h1v1h-1zM947,151h2v1h-2zM948,53h1v1h-1zM948,217h1v1h-1zM948,353h2v1h-2zM949,54h1v1h-1zM949,152h1v1h-1zM949,218h1v2h-1zM949,184h4v1h-4zM950,55h1v1h-1zM950,153h1v1h-1zM950,220h1v1h-1zM950,354h1v1h-1zM951,56h1v1h-1zM951,154h1v1h-1zM951,221h1v1h-1zM951,355h2v1h-2zM952,57h1v1h-1zM952,155h1v1h-1zM952,222h1v2h-1zM953,58h1v1h-1zM953,156h1v1h-1zM953,224h1v1h-1zM953,356h1v1h-1zM953,185h3v1h-3zM954,59h1v1h-1zM954,157h1v1h-1zM954,225h1v2h-1zM954,357h2v1h-2zM955,60h1v1h-1zM955,158h1v1h-1zM955,227h1v1h-1zM955,105h23v1h-23zM956,61h1v1h-1zM956,228h1v2h-1zM956,358h1v1h-1zM956,159h2v1h-2zM956,186h3v1h-3zM957,62h1v1h-1zM957,230h1v1h-1zM957,359h1v1h-1zM958,63h1v1h-1zM958,160h1v1h-1zM958,231h1v2h-1zM958,360h2v1h-2zM959,64h1v1h-1zM959,161h1v1h-1zM959,233h1v1h-1zM959,187h4v1h-4zM959,297h15v1h-15zM960,65h1v1h-1zM960,162h1v1h-1zM960,234h1v1h-1zM960,361h1v1h-1zM961,66h1v1h-1zM961,163h1v1h-1zM961,235h1v2h-1zM961,362h2v1h-2zM962,67h1v1h-1zM962,164h1v1h-1zM962,237h1v1h-1zM963,68h1v1h-1zM963,165h1v1h-1zM963,238h1v2h-1zM963,363h1v1h-1zM963,188h3v1h-3zM964,69h1v1h-1zM964,166h1v1h-1zM964,240h1v1h-1zM964,364h1v1h-1zM965,70h1v1h-1zM965,241h1v2h-1zM965,167h2v1h-2zM965,365h2v1h-2zM966,71h1v1h-1zM966,243h1v1h-1zM966,189h3v1h-3zM967,72h1v1h-1zM967,168h1v1h-1zM967,244h1v1h-1zM967,366h1v1h-1zM968,73h1v1h-1zM968,169h1v1h-1zM968,245h1v2h-1zM968,367h2v1h-2zM969,74h1v1h-1zM969,170h1v1h-1zM969,247h1v1h-1zM969,190h3v1h-3zM970,75h1v1h-1zM970,171h1v1h-1zM970,248h1v2h-1zM970,368h1v1h-1zM971,76h1v1h-1zM971,172h1v1h-1zM971,250h1v1h-1zM971,369h2v1h-2zM972,77h1v1h-1zM972,173h1v1h-1zM972,251h1v2h-1zM972,191h4v1h-4zM973,78h1v1h-1zM973,174h1v1h-1zM973,253h1v1h-1zM973,370h1v1h-1zM974,79h1v1h-1zM974,175h1v1h-1zM974,254h1v2h-1zM974,371h1v1h-1zM974,296h15v1h-15zM975,80h1v1h-1zM975,256h1v1h-1zM975,176h2v1h-2zM975,372h2v1h-2zM976,81h1v1h-1zM976,257h1v1h-1zM976,192h3v1h-3zM977,82h1v1h-1zM977,177h1v1h-1zM977,258h1v2h-1zM977,373h1v1h-1zM978,83h1v1h-1zM978,178h1v1h-1zM978,260h1v1h-1zM978,374h2v1h-2zM978,106h22v1h-22zM979,84h1v1h-1zM979,179h1v1h-1zM979,261h1v2h-1zM979,193h3v1h-3zM980,85h1v1h-1zM980,180h1v1h-1zM980,263h1v1h-1zM980,375h1v1h-1zM981,86h1v1h-1zM981,181h1v1h-1zM981,264h1v2h-1zM981,376h2v1h-2zM982,87h1v1h-1zM982,182h1v1h-1zM982,266h1v1h-1zM982,194h4v1h-4zM983,88h1v1h-1zM983,183h1v1h-1zM983,267h1v1h-1zM983,377h1v1h-1zM984,89h1v1h-1zM984,268h1v2h-1zM984,378h1v1h-1zM984,184h2v1h-2zM985,90h1v1h-1zM985,270h1v1h-1zM985,379h2v1h-2zM986,91h1v1h-1zM986,185h1v1h-1zM986,271h1v2h-1zM986,195h3v1h-3zM987,92h1v1h-1zM987,186h1v1h-1zM987,273h1v1h-1zM987,380h1v1h-1zM988,93h1v1h-1zM988,187h1v1h-1zM988,274h1v2h-1zM988,381h2v1h-2zM989,94h1v1h-1zM989,188h1v1h-1zM989,276h1v1h-1zM989,196h3v1h-3zM989,295h14v1h-14zM990,95h1v1h-1zM990,189h1v1h-1zM990,277h1v2h-1zM990,382h1v1h-1zM991,96h1v1h-1zM991,190h1v1h-1zM991,279h1v1h-1zM991,383h2v1h-2zM992,97h1v1h-1zM992,191h1v1h-1zM992,280h1v1h-1zM992,197h4v1h-4zM993,98h1v1h-1zM993,281h1v2h-1zM993,384h1v1h-1zM993,192h2v1h-2zM994,99h1v1h-1zM994,283h1v1h-1zM994,385h1v1h-1zM995,100h1v1h-1zM995,193h1v1h-1zM995,284h1v2h-1zM995,386h2v1h-2zM996,101h1v1h-1zM996,194h1v1h-1zM996,286h1v1h-1zM996,198h3v1h-3zM997,102h1v1h-1zM997,195h1v1h-1zM997,287h1v2h-1zM997,387h1v1h-1zM998,103h1v1h-1zM998,196h1v1h-1zM998,289h1v1h-1zM998,388h2v1h-2zM999,104h1v1h-1zM999,197h1v1h-1zM999,290h1v2h-1zM999,199h4v1h-4zM1000,105h1v1h-1zM1000,198h1v1h-1zM1000,292h1v1h-1zM1000,389h1v1h-1zM1000,107h3v1h-3zM1001,106h2v1h-2zM1001,293h2v1h-2zM1001,390h2v1h-2zM1002,12h1v94h-1zM1002,108h1v91h-1zM1002,200h1v93h-1zM1002,294h1v1h-1zM1002,296h1v94h-1zM1002,391h1v1h-1z" fill="#000" shape-rendering="crispEdges"/>
<g shape-rendering="crispEdges">
<rect x="506" y="368.70" width="37" height="33.50" fill="#0000AA"/>
<rect x="506" y="335.70" width="37" height="33.50" fill="#0000FF"/>
<rect x="506" y="302.70" width="37" height="33.50" fill="#0055FF"/>
<rect x="506" y="269.70" width="37" height="33.50" fill="#00AAFF"/>
<rect x="506" y="236.70" width="37" height="33.50" fill="#00FFFF"/>
<rect x="506" y="203.70" width="37" height="33.50" fill="#55FFAA"/>
<rect x="506" y="170.70" width="37" height="33.50" fill="#AAFF55"/>
<rect x="506" y="137.70" width="37" height="33.50" fill="#FFFF00"/>
<rect x="506" y="104.70" width="37" height="33.50" fill="#FFAA00"/>
<rect x="506" y="71.70" width="37" height="33.50" fill="#FF5500"/>
<rect x="506" y="38.70" width="37" height="33.50" fill="#FF0000"/>
<rect x="506" y="6.00" width="37" height="33.20" fill="#AA0000"/>
<rect x="506.5" y="6.5" width="36" height="396" fill="none" stroke="#000" stroke-width="1"/>
<path d="M507,383h3v1h-3zM542,383h-3v1h3zM507,326h3v1h-3zM542,326h-3v1h3zM507,269h3v1h-3zM542,269h-3v1h3zM507,212h3v1h-3zM542,212h-3v1h3zM507,155h3v1h-3zM542,155h-3v1h3zM507,99h3v1h-3zM542,99h-3v1h3zM507,42h3v1h-3zM542,42h-3v1h3z" fill="#000"/>
</g>
<text transform="translate(545.20,389.30) scale(0.91,1)" font-size="19" class="tk">5</text>
<text transform="translate(545.20,332.52) scale(0.91,1)" font-size="19" class="tk">10</text>
<text transform="translate(545.20,275.73) scale(0.91,1)" font-size="19" class="tk">15</text>
<text transform="translate(545.20,218.95) scale(0.91,1)" font-size="19" class="tk">20</text>
<text transform="translate(545.20,162.17) scale(0.91,1)" font-size="19" class="tk">25</text>
<text transform="translate(545.20,105.38) scale(0.91,1)" font-size="19" class="tk">30</text>
<text transform="translate(545.20,48.60) scale(0.91,1)" font-size="19" class="tk">35</text>
<g shape-rendering="crispEdges">
<rect x="1083" y="361.65" width="36" height="32.45" fill="#0000AA"/>
<rect x="1083" y="329.70" width="36" height="32.45" fill="#0000FF"/>
<rect x="1083" y="297.75" width="36" height="32.45" fill="#0055FF"/>
<rect x="1083" y="265.80" width="36" height="32.45" fill="#00AAFF"/>
<rect x="1083" y="233.85" width="36" height="32.45" fill="#00FFFF"/>
<rect x="1083" y="201.90" width="36" height="32.45" fill="#55FFAA"/>
<rect x="1083" y="169.95" width="36" height="32.45" fill="#AAFF55"/>
<rect x="1083" y="138.00" width="36" height="32.45" fill="#FFFF00"/>
<rect x="1083" y="106.05" width="36" height="32.45" fill="#FFAA00"/>
<rect x="1083" y="74.10" width="36" height="32.45" fill="#FF5500"/>
<rect x="1083" y="42.15" width="36" height="32.45" fill="#FF0000"/>
<rect x="1083" y="12.00" width="36" height="30.65" fill="#AA0000"/>
<rect x="1083.5" y="12.5" width="35" height="382" fill="none" stroke="#000" stroke-width="1"/>
<path d="M1084,362h3v1h-3zM1118,362h-3v1h3zM1084,317h3v1h-3zM1118,317h-3v1h3zM1084,273h3v1h-3zM1118,273h-3v1h3zM1084,229h3v1h-3zM1118,229h-3v1h3zM1084,184h3v1h-3zM1118,184h-3v1h3zM1084,140h3v1h-3zM1118,140h-3v1h3zM1084,96h3v1h-3zM1118,96h-3v1h3zM1084,51h3v1h-3zM1118,51h-3v1h3z" fill="#000"/>
</g>
<text transform="translate(1121.20,367.90) scale(0.91,1)" font-size="19" class="tk">5</text>
<text transform="translate(1121.20,323.54) scale(0.91,1)" font-size="19" class="tk">10</text>
<text transform="translate(1121.20,279.19) scale(0.91,1)" font-size="19" class="tk">15</text>
<text transform="translate(1121.20,234.83) scale(0.91,1)" font-size="19" class="tk">20</text>
<text transform="translate(1121.20,190.47) scale(0.91,1)" font-size="19" class="tk">25</text>
<text transform="translate(1121.20,146.11) scale(0.91,1)" font-size="19" class="tk">30</text>
<text transform="translate(1121.20,101.76) scale(0.91,1)" font-size="19" class="tk">35</text>
<text transform="translate(1121.20,57.40) scale(0.91,1)" font-size="19" class="tk">40</text>
</svg>
<p class="cap" id="c1">mx: n = 2 ; distortion s = 0.1</p>
<p class="cap" id="c2">n = 4; distortion s = 0.4</p>
</body></html>
